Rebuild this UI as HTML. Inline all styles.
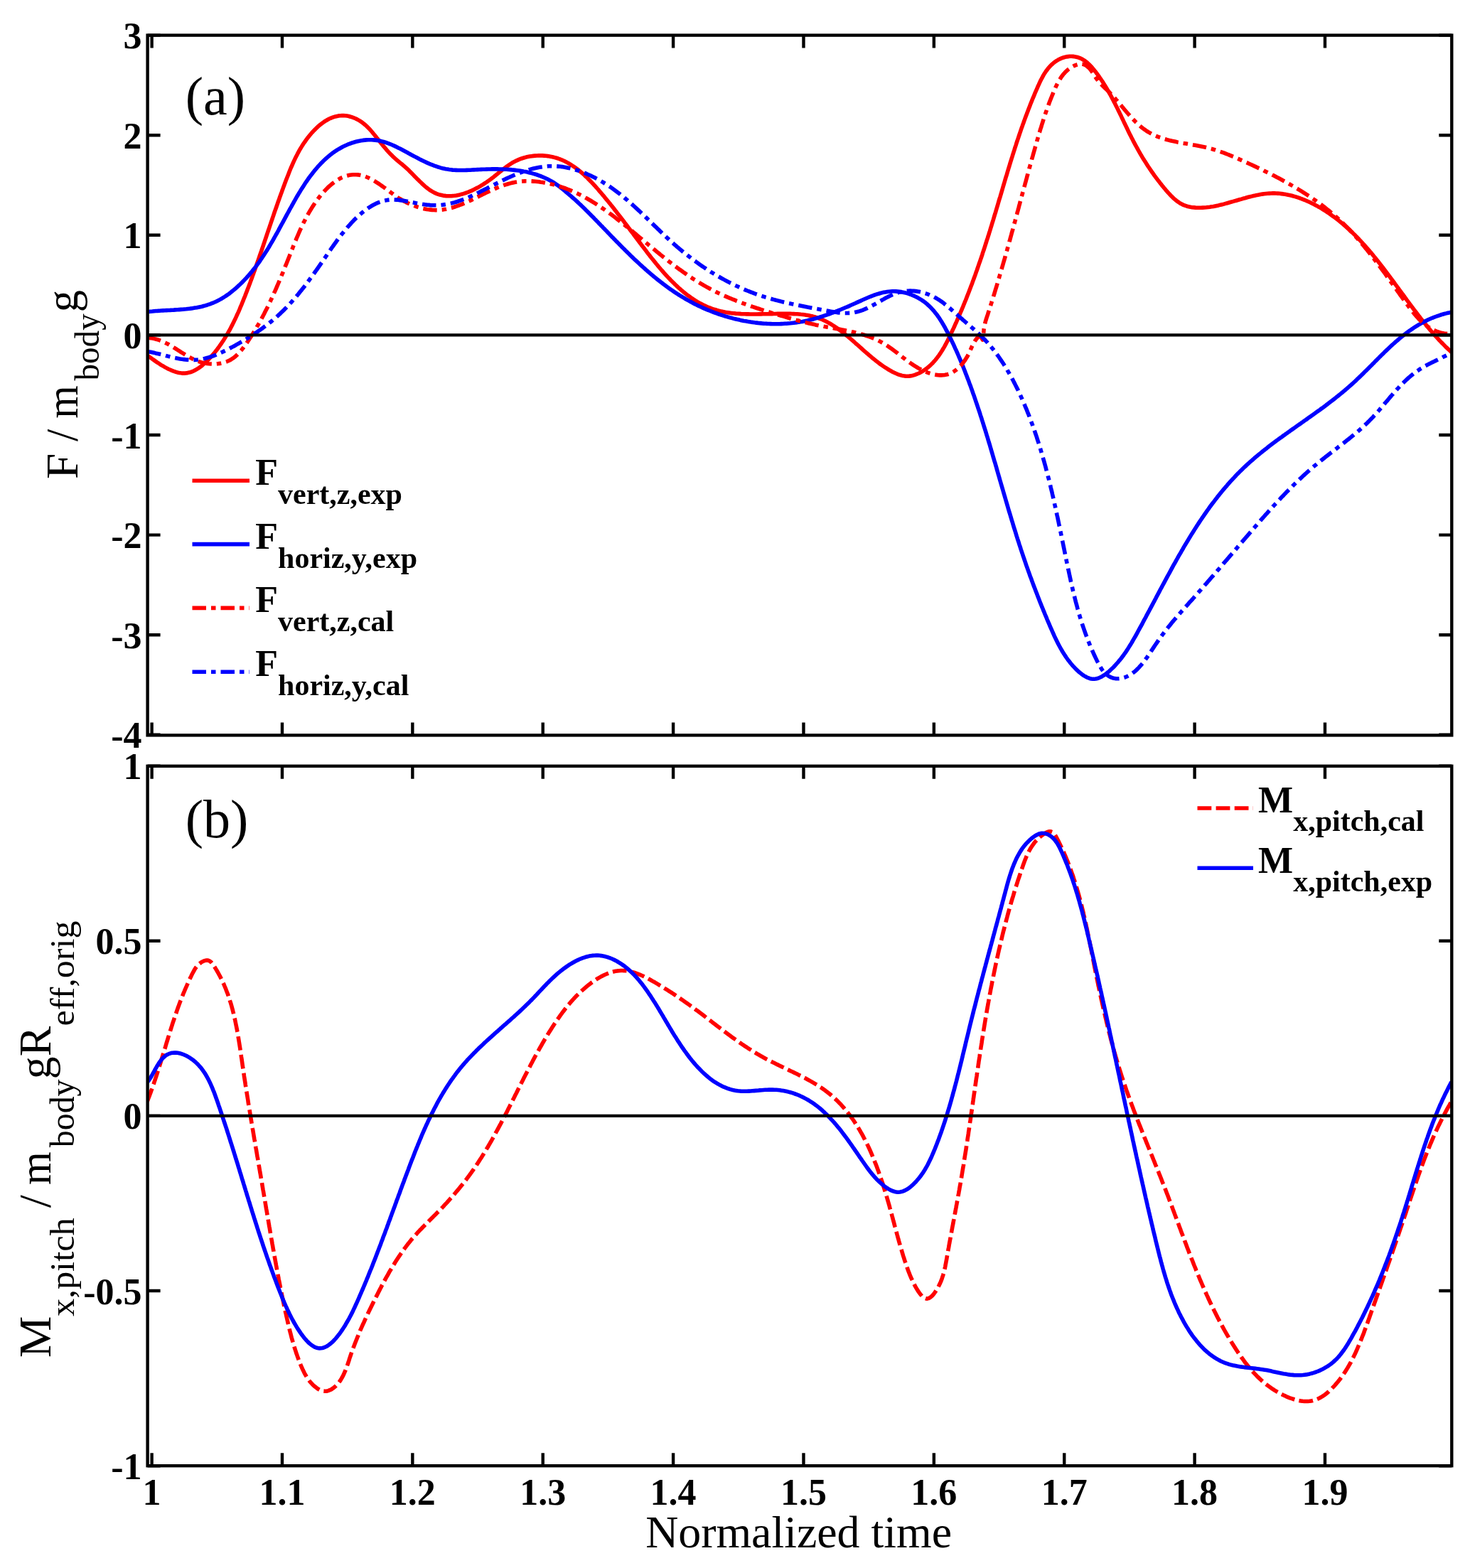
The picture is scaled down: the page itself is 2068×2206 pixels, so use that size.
<!DOCTYPE html>
<html><head><meta charset="utf-8"><title>Forces and moments vs normalized time</title>
<style>html,body{margin:0;padding:0;background:#fff;}svg{display:block;}.tk{font-family:"Liberation Serif","Times New Roman",serif;font-weight:bold;font-size:52px;fill:#000;}.lg{font-family:"Liberation Serif","Times New Roman",serif;font-weight:bold;fill:#000;}.rg{font-family:"Liberation Serif","Times New Roman",serif;font-weight:normal;fill:#000;}</style></head><body>
<svg xmlns="http://www.w3.org/2000/svg" width="2068" height="2206" viewBox="0 0 2068 2206">
<rect x="0" y="0" width="2068" height="2206" fill="#fff"/>
<clipPath id="c49"><rect x="207.6" y="49.6" width="1834.7" height="984.8"/></clipPath>
<g clip-path="url(#c49)" fill="none" stroke-linejoin="round">
<path d="M207.0,499.9 L208.6,501.0 210.4,502.3 212.2,503.6 214.2,505.0 216.2,506.4 218.3,507.9 220.4,509.4 222.7,510.8 224.9,512.3 227.3,513.8 229.7,515.2 232.1,516.6 234.5,517.9 237.0,519.2 239.5,520.3 242.0,521.4 244.5,522.3 247.0,523.2 249.5,523.9 252.0,524.4 254.4,524.8 256.8,525.1 259.2,525.1 261.6,524.9 263.9,524.6 266.2,524.1 268.4,523.5 270.6,522.7 272.7,521.7 274.9,520.6 276.9,519.4 279.0,518.1 281.0,516.7 283.0,515.2 284.9,513.7 286.8,512.0 288.7,510.3 290.5,508.5 292.3,506.7 294.1,504.9 295.8,503.1 297.5,501.2 299.1,499.3 300.8,497.4 302.4,495.4 303.9,493.5 305.5,491.5 307.0,489.5 308.4,487.5 309.9,485.4 311.3,483.4 312.7,481.3 314.1,479.2 315.4,477.1 316.7,475.0 318.0,472.9 319.3,470.8 320.6,468.6 321.8,466.4 323.0,464.3 324.2,462.1 325.3,459.9 326.5,457.7 327.6,455.4 328.7,453.2 329.8,450.9 330.9,448.7 332.0,446.4 333.0,444.2 334.0,441.9 335.1,439.6 336.1,437.3 337.1,435.0 338.0,432.7 339.0,430.4 340.0,428.1 340.9,425.8 341.9,423.4 342.8,421.1 343.7,418.8 344.7,416.5 345.6,414.1 346.5,411.8 347.4,409.4 348.3,407.1 349.2,404.8 350.1,402.4 351.0,400.1 351.9,397.7 352.7,395.4 353.6,393.0 354.5,390.7 355.3,388.3 356.2,386.0 357.0,383.6 357.9,381.3 358.7,378.9 359.5,376.5 360.4,374.2 361.2,371.8 362.0,369.5 362.9,367.1 363.7,364.7 364.5,362.4 365.3,360.0 366.1,357.6 366.9,355.3 367.8,352.9 368.6,350.5 369.4,348.2 370.2,345.8 371.0,343.4 371.8,341.1 372.6,338.7 373.4,336.3 374.2,334.0 375.0,331.6 375.8,329.2 376.6,326.9 377.4,324.5 378.2,322.1 379.0,319.8 379.8,317.4 380.6,315.1 381.4,312.7 382.2,310.3 383.0,308.0 383.8,305.6 384.6,303.3 385.4,300.9 386.2,298.5 387.0,296.2 387.9,293.8 388.7,291.5 389.5,289.1 390.3,286.8 391.1,284.4 392.0,282.1 392.8,279.8 393.6,277.4 394.5,275.1 395.3,272.7 396.2,270.4 397.0,268.1 397.9,265.7 398.7,263.4 399.6,261.1 400.4,258.8 401.3,256.4 402.2,254.1 403.1,251.8 404.0,249.5 404.9,247.2 405.8,244.9 406.7,242.6 407.6,240.3 408.5,238.0 409.5,235.7 410.5,233.5 411.5,231.2 412.5,228.9 413.5,226.7 414.6,224.4 415.6,222.2 416.7,220.0 417.9,217.8 419.0,215.6 420.2,213.4 421.4,211.2 422.7,209.0 424.0,206.9 425.3,204.8 426.7,202.6 428.1,200.5 429.6,198.5 431.0,196.4 432.6,194.3 434.2,192.3 435.8,190.3 437.5,188.3 439.2,186.3 441.0,184.4 442.8,182.5 444.6,180.7 446.5,178.9 448.4,177.2 450.4,175.5 452.4,174.0 454.4,172.5 456.5,171.0 458.6,169.7 460.7,168.5 462.9,167.3 465.1,166.3 467.3,165.4 469.6,164.6 471.8,163.9 474.1,163.4 476.4,162.9 478.8,162.7 481.1,162.5 483.5,162.6 485.9,162.7 488.3,163.1 490.7,163.5 493.1,164.2 495.4,164.9 497.8,165.8 500.1,166.8 502.4,167.9 504.6,169.1 506.8,170.4 508.9,171.8 511.0,173.4 512.9,175.0 514.9,176.7 516.7,178.4 518.5,180.3 520.3,182.1 522.0,184.0 523.7,186.0 525.3,188.0 527.0,190.0 528.6,192.0 530.1,194.0 531.7,195.9 533.3,197.9 534.8,199.9 536.3,201.8 537.9,203.7 539.4,205.6 541.0,207.4 542.6,209.3 544.1,211.1 545.7,212.9 547.3,214.6 548.9,216.3 550.6,218.0 552.2,219.6 553.9,221.2 555.6,222.8 557.4,224.3 559.1,225.8 560.9,227.3 562.7,228.8 564.5,230.3 566.4,231.8 568.2,233.4 570.0,235.0 571.9,236.6 573.7,238.3 575.5,240.1 577.3,241.9 579.2,243.7 581.0,245.6 582.8,247.5 584.7,249.4 586.5,251.3 588.4,253.1 590.3,255.0 592.2,256.8 594.1,258.6 596.0,260.4 597.9,262.1 599.9,263.7 601.9,265.3 603.9,266.8 605.9,268.1 608.0,269.4 610.1,270.6 612.2,271.7 614.4,272.6 616.6,273.4 618.8,274.1 621.0,274.6 623.3,275.1 625.6,275.4 627.9,275.7 630.2,275.8 632.6,275.8 635.0,275.7 637.3,275.5 639.7,275.3 642.1,274.9 644.5,274.4 646.9,273.9 649.3,273.3 651.7,272.6 654.1,271.8 656.5,271.0 658.9,270.1 661.3,269.1 663.7,268.1 666.0,267.0 668.4,265.8 670.7,264.6 673.0,263.4 675.3,262.1 677.6,260.7 679.8,259.4 682.0,257.9 684.2,256.5 686.3,255.0 688.4,253.5 690.5,252.0 692.5,250.4 694.5,248.9 696.5,247.3 698.4,245.7 700.4,244.1 702.3,242.5 704.2,241.0 706.1,239.4 708.1,237.9 710.0,236.4 711.9,235.0 713.9,233.5 715.9,232.2 717.9,230.8 719.9,229.5 722.0,228.3 724.1,227.2 726.3,226.1 728.5,225.1 730.7,224.1 733.1,223.2 735.4,222.5 737.8,221.8 740.2,221.1 742.7,220.6 745.2,220.1 747.7,219.7 750.2,219.4 752.8,219.1 755.3,219.0 757.9,218.9 760.4,218.8 763.0,218.9 765.6,219.1 768.1,219.3 770.6,219.6 773.1,220.0 775.6,220.4 778.1,221.0 780.5,221.6 782.9,222.3 785.2,223.0 787.6,223.9 789.9,224.8 792.1,225.8 794.4,226.8 796.6,227.9 798.7,229.1 800.9,230.3 803.0,231.6 805.1,233.0 807.2,234.4 809.2,235.8 811.2,237.3 813.2,238.8 815.2,240.4 817.1,242.0 819.1,243.7 821.0,245.3 822.8,247.1 824.7,248.8 826.5,250.6 828.3,252.4 830.1,254.2 831.9,256.1 833.7,257.9 835.4,259.8 837.1,261.7 838.8,263.6 840.5,265.5 842.2,267.4 843.8,269.4 845.5,271.3 847.1,273.2 848.7,275.1 850.3,277.1 851.9,279.0 853.4,280.9 855.0,282.8 856.6,284.7 858.1,286.6 859.6,288.5 861.2,290.4 862.7,292.3 864.2,294.2 865.7,296.2 867.2,298.1 868.6,300.0 870.1,301.9 871.6,303.8 873.1,305.7 874.5,307.6 876.0,309.5 877.5,311.4 878.9,313.4 880.4,315.3 881.9,317.2 883.3,319.1 884.8,321.1 886.2,323.0 887.7,325.0 889.2,326.9 890.7,328.9 892.1,330.8 893.6,332.8 895.1,334.8 896.6,336.8 898.1,338.7 899.6,340.7 901.1,342.7 902.6,344.8 904.1,346.8 905.7,348.8 907.2,350.8 908.8,352.8 910.3,354.9 911.9,356.9 913.5,358.9 915.0,361.0 916.6,363.0 918.3,365.0 919.9,367.0 921.5,369.0 923.1,371.0 924.8,373.0 926.4,375.0 928.1,377.0 929.8,379.0 931.5,380.9 933.2,382.9 934.9,384.8 936.6,386.7 938.4,388.6 940.1,390.5 941.9,392.3 943.7,394.2 945.5,396.0 947.3,397.8 949.1,399.6 950.9,401.3 952.8,403.1 954.6,404.8 956.5,406.4 958.4,408.1 960.3,409.7 962.2,411.3 964.2,412.9 966.1,414.4 968.1,415.9 970.1,417.3 972.1,418.8 974.1,420.1 976.1,421.5 978.2,422.8 980.3,424.1 982.3,425.3 984.4,426.5 986.6,427.6 988.7,428.7 990.9,429.8 993.0,430.8 995.2,431.8 997.4,432.7 999.7,433.5 1001.9,434.4 1004.2,435.1 1006.5,435.8 1008.8,436.5 1011.1,437.1 1013.4,437.7 1015.8,438.2 1018.2,438.7 1020.6,439.2 1023.0,439.6 1025.4,439.9 1027.8,440.3 1030.3,440.6 1032.7,440.8 1035.2,441.1 1037.7,441.3 1040.1,441.4 1042.6,441.6 1045.2,441.7 1047.7,441.8 1050.2,441.9 1052.7,441.9 1055.3,442.0 1057.8,442.0 1060.4,442.0 1062.9,442.0 1065.5,442.0 1068.1,441.9 1070.6,441.9 1073.2,441.8 1075.8,441.8 1078.3,441.7 1080.9,441.7 1083.5,441.6 1086.1,441.6 1088.6,441.5 1091.2,441.5 1093.8,441.4 1096.3,441.4 1098.9,441.3 1101.5,441.3 1104.0,441.3 1106.6,441.3 1109.1,441.3 1111.6,441.4 1114.2,441.5 1116.7,441.6 1119.2,441.7 1121.7,441.8 1124.2,442.0 1126.6,442.3 1129.1,442.5 1131.5,442.8 1133.9,443.2 1136.3,443.6 1138.7,444.0 1141.1,444.6 1143.4,445.1 1145.7,445.7 1148.0,446.4 1150.3,447.2 1152.5,448.0 1154.8,448.8 1157.0,449.8 1159.1,450.8 1161.3,451.8 1163.5,452.9 1165.6,454.1 1167.7,455.3 1169.8,456.5 1171.8,457.8 1173.9,459.1 1176.0,460.5 1178.0,461.9 1180.0,463.4 1182.0,464.9 1184.0,466.4 1186.0,467.9 1188.0,469.5 1189.9,471.1 1191.9,472.7 1193.8,474.3 1195.8,476.0 1197.7,477.7 1199.7,479.4 1201.6,481.0 1203.5,482.8 1205.5,484.5 1207.4,486.2 1209.3,487.9 1211.3,489.6 1213.2,491.4 1215.1,493.1 1217.1,494.8 1219.0,496.5 1221.0,498.2 1222.9,499.9 1224.9,501.5 1226.8,503.2 1228.8,504.8 1230.8,506.4 1232.8,508.0 1234.8,509.5 1236.8,511.1 1238.9,512.6 1240.9,514.0 1243.0,515.5 1245.1,516.9 1247.2,518.2 1249.3,519.5 1251.4,520.8 1253.6,522.0 1255.7,523.2 1257.9,524.3 1260.1,525.3 1262.4,526.3 1264.6,527.1 1266.9,527.8 1269.1,528.4 1271.4,528.8 1273.7,529.1 1276.1,529.2 1278.4,529.2 1280.7,528.9 1283.1,528.5 1285.5,527.9 1287.8,527.1 1290.1,526.2 1292.4,525.2 1294.7,524.1 1296.9,522.8 1299.1,521.5 1301.2,520.1 1303.3,518.6 1305.3,517.0 1307.2,515.4 1309.0,513.7 1310.8,512.0 1312.6,510.2 1314.2,508.4 1315.9,506.5 1317.4,504.6 1318.9,502.6 1320.4,500.7 1321.8,498.6 1323.2,496.6 1324.5,494.5 1325.9,492.4 1327.1,490.2 1328.4,488.1 1329.6,485.9 1330.8,483.7 1331.9,481.5 1333.1,479.2 1334.2,477.0 1335.3,474.7 1336.4,472.5 1337.5,470.2 1338.6,467.9 1339.6,465.7 1340.7,463.4 1341.8,461.1 1342.8,458.8 1343.8,456.5 1344.9,454.3 1345.9,452.0 1346.9,449.7 1347.9,447.4 1348.9,445.1 1349.9,442.8 1350.9,440.5 1351.9,438.2 1352.9,435.9 1353.8,433.6 1354.8,431.3 1355.7,428.9 1356.7,426.6 1357.6,424.3 1358.6,422.0 1359.5,419.7 1360.4,417.3 1361.3,415.0 1362.2,412.7 1363.1,410.4 1364.0,408.0 1364.9,405.7 1365.8,403.3 1366.7,401.0 1367.6,398.7 1368.4,396.3 1369.3,394.0 1370.2,391.6 1371.0,389.3 1371.9,386.9 1372.7,384.6 1373.5,382.2 1374.4,379.9 1375.2,377.5 1376.0,375.1 1376.8,372.8 1377.6,370.4 1378.5,368.1 1379.3,365.7 1380.1,363.3 1380.9,361.0 1381.7,358.6 1382.4,356.2 1383.2,353.9 1384.0,351.5 1384.8,349.1 1385.6,346.7 1386.3,344.4 1387.1,342.0 1387.8,339.6 1388.6,337.2 1389.4,334.9 1390.1,332.5 1390.9,330.1 1391.6,327.7 1392.4,325.3 1393.1,323.0 1393.8,320.6 1394.6,318.2 1395.3,315.8 1396.0,313.4 1396.8,311.0 1397.5,308.7 1398.2,306.3 1398.9,303.9 1399.6,301.5 1400.4,299.1 1401.1,296.7 1401.8,294.3 1402.5,292.0 1403.2,289.6 1403.9,287.2 1404.6,284.8 1405.3,282.4 1406.0,280.0 1406.8,277.6 1407.5,275.3 1408.2,272.9 1408.9,270.5 1409.6,268.1 1410.3,265.7 1411.0,263.3 1411.7,260.9 1412.4,258.5 1413.1,256.2 1413.8,253.8 1414.5,251.4 1415.2,249.0 1416.0,246.6 1416.7,244.2 1417.4,241.8 1418.1,239.5 1418.8,237.1 1419.6,234.7 1420.3,232.3 1421.0,229.9 1421.7,227.6 1422.5,225.2 1423.2,222.8 1424.0,220.4 1424.7,218.0 1425.5,215.7 1426.2,213.3 1427.0,210.9 1427.7,208.5 1428.5,206.1 1429.3,203.8 1430.0,201.4 1430.8,199.0 1431.6,196.6 1432.4,194.3 1433.2,191.9 1434.0,189.5 1434.8,187.2 1435.6,184.8 1436.4,182.4 1437.2,180.1 1438.1,177.7 1438.9,175.3 1439.8,173.0 1440.6,170.6 1441.5,168.2 1442.3,165.9 1443.2,163.5 1444.1,161.2 1445.0,158.8 1445.9,156.4 1446.8,154.1 1447.7,151.7 1448.6,149.4 1449.5,147.0 1450.4,144.7 1451.4,142.3 1452.3,140.0 1453.3,137.6 1454.3,135.3 1455.3,132.9 1456.2,130.6 1457.2,128.3 1458.3,125.9 1459.3,123.6 1460.3,121.2 1461.4,118.9 1462.4,116.6 1463.5,114.3 1464.6,112.0 1465.8,109.8 1467.0,107.6 1468.2,105.4 1469.5,103.3 1470.9,101.2 1472.3,99.2 1473.8,97.2 1475.3,95.3 1476.9,93.5 1478.6,91.8 1480.4,90.1 1482.2,88.5 1484.2,87.0 1486.2,85.6 1488.4,84.3 1490.6,83.1 1492.9,82.1 1495.2,81.2 1497.6,80.5 1500.0,79.9 1502.4,79.6 1504.8,79.3 1507.3,79.3 1509.7,79.4 1512.1,79.7 1514.5,80.2 1516.8,80.8 1519.1,81.7 1521.3,82.6 1523.4,83.8 1525.5,85.1 1527.4,86.5 1529.4,88.0 1531.2,89.7 1533.0,91.5 1534.8,93.3 1536.5,95.2 1538.2,97.2 1539.8,99.2 1541.4,101.2 1542.9,103.3 1544.5,105.4 1546.0,107.5 1547.4,109.6 1548.9,111.7 1550.3,113.8 1551.7,115.9 1553.0,118.1 1554.4,120.2 1555.7,122.4 1557.0,124.5 1558.2,126.7 1559.5,128.9 1560.7,131.1 1561.9,133.2 1563.1,135.4 1564.3,137.6 1565.5,139.9 1566.6,142.1 1567.8,144.3 1568.9,146.5 1570.0,148.7 1571.2,151.0 1572.3,153.2 1573.3,155.4 1574.4,157.6 1575.5,159.9 1576.6,162.1 1577.7,164.4 1578.7,166.6 1579.8,168.8 1580.9,171.1 1581.9,173.3 1583.0,175.5 1584.1,177.8 1585.2,180.0 1586.2,182.2 1587.3,184.5 1588.4,186.7 1589.5,188.9 1590.6,191.1 1591.7,193.3 1592.9,195.5 1594.0,197.7 1595.1,199.9 1596.3,202.1 1597.5,204.3 1598.7,206.5 1599.9,208.7 1601.1,210.8 1602.3,213.0 1603.5,215.1 1604.8,217.3 1606.0,219.4 1607.3,221.6 1608.6,223.7 1609.9,225.8 1611.3,227.9 1612.6,230.0 1613.9,232.1 1615.3,234.2 1616.7,236.3 1618.1,238.4 1619.5,240.4 1620.9,242.5 1622.4,244.5 1623.8,246.6 1625.3,248.6 1626.8,250.6 1628.3,252.6 1629.8,254.6 1631.4,256.6 1632.9,258.6 1634.5,260.6 1636.1,262.5 1637.7,264.5 1639.4,266.4 1641.0,268.4 1642.7,270.3 1644.4,272.2 1646.1,274.0 1647.8,275.8 1649.6,277.6 1651.4,279.3 1653.3,280.9 1655.2,282.5 1657.2,283.9 1659.2,285.3 1661.2,286.5 1663.3,287.6 1665.5,288.6 1667.7,289.4 1670.0,290.2 1672.4,290.8 1674.7,291.3 1677.1,291.7 1679.6,291.9 1682.0,292.1 1684.5,292.2 1687.0,292.3 1689.5,292.2 1692.0,292.1 1694.5,292.0 1697.0,291.8 1699.4,291.5 1701.9,291.2 1704.4,290.8 1706.9,290.4 1709.4,289.9 1711.8,289.4 1714.3,288.9 1716.8,288.3 1719.3,287.7 1721.7,287.1 1724.2,286.4 1726.7,285.7 1729.1,285.0 1731.6,284.3 1734.1,283.6 1736.5,282.9 1739.0,282.2 1741.4,281.5 1743.9,280.8 1746.4,280.1 1748.8,279.3 1751.3,278.7 1753.7,278.0 1756.2,277.3 1758.6,276.7 1761.1,276.1 1763.6,275.5 1766.0,275.0 1768.5,274.4 1770.9,274.0 1773.4,273.5 1775.8,273.1 1778.3,272.8 1780.7,272.5 1783.2,272.3 1785.6,272.1 1788.1,272.0 1790.5,271.9 1793.0,271.9 1795.4,272.0 1797.8,272.1 1800.3,272.3 1802.7,272.6 1805.2,272.9 1807.6,273.3 1810.0,273.7 1812.4,274.2 1814.9,274.7 1817.3,275.3 1819.7,276.0 1822.1,276.6 1824.4,277.4 1826.8,278.2 1829.2,279.0 1831.5,279.9 1833.9,280.8 1836.2,281.7 1838.5,282.7 1840.8,283.8 1843.1,284.8 1845.4,285.9 1847.7,287.1 1849.9,288.2 1852.2,289.4 1854.4,290.7 1856.6,291.9 1858.8,293.2 1860.9,294.5 1863.1,295.9 1865.2,297.2 1867.3,298.6 1869.4,300.0 1871.4,301.4 1873.5,302.9 1875.5,304.4 1877.5,305.8 1879.5,307.3 1881.5,308.9 1883.4,310.4 1885.4,312.0 1887.3,313.5 1889.2,315.1 1891.1,316.8 1892.9,318.4 1894.8,320.0 1896.6,321.7 1898.5,323.4 1900.3,325.1 1902.1,326.8 1903.8,328.5 1905.6,330.2 1907.3,332.0 1909.1,333.8 1910.8,335.5 1912.5,337.3 1914.2,339.1 1915.9,341.0 1917.6,342.8 1919.3,344.6 1920.9,346.5 1922.5,348.4 1924.2,350.2 1925.8,352.1 1927.4,354.0 1929.0,355.9 1930.6,357.8 1932.2,359.8 1933.8,361.7 1935.4,363.6 1936.9,365.6 1938.5,367.5 1940.0,369.5 1941.6,371.5 1943.1,373.4 1944.7,375.4 1946.2,377.4 1947.7,379.4 1949.2,381.4 1950.7,383.4 1952.2,385.4 1953.7,387.4 1955.2,389.4 1956.7,391.5 1958.2,393.5 1959.7,395.5 1961.2,397.5 1962.7,399.6 1964.2,401.6 1965.7,403.6 1967.2,405.6 1968.6,407.7 1970.1,409.7 1971.6,411.7 1973.1,413.8 1974.6,415.8 1976.1,417.8 1977.6,419.9 1979.0,421.9 1980.5,423.9 1982.0,425.9 1983.5,428.0 1985.0,430.0 1986.5,432.0 1988.0,434.0 1989.5,436.0 1991.1,438.0 1992.6,440.0 1994.1,442.0 1995.6,444.0 1997.2,445.9 1998.7,447.9 2000.3,449.9 2001.8,451.8 2003.4,453.8 2005.0,455.7 2006.5,457.6 2008.1,459.6 2009.7,461.5 2011.3,463.4 2012.9,465.3 2014.6,467.2 2016.2,469.1 2017.8,470.9 2019.5,472.8 2021.2,474.6 2022.8,476.4 2024.5,478.3 2026.2,480.1 2027.9,481.9 2029.7,483.6 2031.4,485.4 2033.1,487.2 2034.9,488.9 2036.7,490.6 2038.5,492.3 2040.3,494.0 2042.1,495.7" stroke="#ff0000" stroke-width="5.6"/>
<path d="M207.0,438.8 L209.5,438.5 211.9,438.2 214.4,438.0 216.8,437.7 219.3,437.5 221.8,437.4 224.3,437.2 226.8,437.0 229.3,436.9 231.8,436.8 234.3,436.6 236.8,436.5 239.3,436.4 241.9,436.2 244.4,436.1 246.9,435.9 249.4,435.8 251.9,435.6 254.5,435.4 257.0,435.2 259.5,435.0 262.0,434.8 264.5,434.5 267.0,434.2 269.4,433.9 271.9,433.5 274.4,433.1 276.8,432.7 279.2,432.2 281.7,431.7 284.1,431.2 286.5,430.5 288.9,429.9 291.2,429.2 293.6,428.4 295.9,427.6 298.2,426.7 300.5,425.8 302.8,424.8 305.1,423.7 307.3,422.6 309.5,421.4 311.7,420.2 313.8,418.9 316.0,417.5 318.1,416.1 320.2,414.7 322.3,413.2 324.3,411.6 326.3,410.0 328.3,408.4 330.2,406.8 332.2,405.1 334.1,403.4 335.9,401.7 337.8,400.0 339.6,398.3 341.3,396.5 343.1,394.7 344.8,392.9 346.5,391.1 348.2,389.2 349.8,387.4 351.4,385.5 353.0,383.6 354.6,381.7 356.1,379.8 357.7,377.9 359.2,376.0 360.6,374.0 362.1,372.0 363.6,370.1 365.0,368.1 366.4,366.0 367.8,364.0 369.1,362.0 370.5,360.0 371.8,357.9 373.2,355.8 374.5,353.8 375.8,351.7 377.1,349.6 378.4,347.5 379.6,345.4 380.9,343.2 382.1,341.1 383.4,339.0 384.6,336.8 385.8,334.7 387.0,332.5 388.2,330.3 389.5,328.2 390.7,326.0 391.9,323.8 393.0,321.6 394.2,319.4 395.4,317.2 396.6,315.0 397.8,312.8 399.0,310.6 400.2,308.4 401.4,306.2 402.6,303.9 403.8,301.7 405.0,299.5 406.2,297.3 407.4,295.0 408.6,292.8 409.9,290.6 411.1,288.4 412.4,286.1 413.6,283.9 414.9,281.7 416.1,279.5 417.4,277.2 418.7,275.0 420.0,272.8 421.4,270.6 422.7,268.4 424.0,266.2 425.4,264.1 426.8,261.9 428.2,259.8 429.6,257.6 431.0,255.5 432.5,253.4 433.9,251.3 435.4,249.3 436.9,247.2 438.5,245.2 440.0,243.2 441.6,241.2 443.1,239.3 444.8,237.4 446.4,235.5 448.0,233.6 449.7,231.8 451.4,230.0 453.2,228.2 454.9,226.5 456.7,224.8 458.5,223.1 460.4,221.5 462.2,219.9 464.1,218.3 466.1,216.8 468.0,215.3 470.0,213.9 472.0,212.5 474.1,211.2 476.2,209.9 478.3,208.7 480.4,207.5 482.6,206.3 484.8,205.3 487.1,204.2 489.3,203.2 491.6,202.3 493.9,201.5 496.3,200.7 498.6,200.0 501.0,199.3 503.4,198.7 505.8,198.2 508.2,197.8 510.6,197.4 513.0,197.1 515.4,196.9 517.9,196.8 520.3,196.7 522.7,196.8 525.2,196.9 527.6,197.1 530.0,197.4 532.4,197.8 534.8,198.3 537.2,198.9 539.6,199.5 542.0,200.2 544.3,201.0 546.7,201.9 549.1,202.8 551.4,203.8 553.8,204.8 556.1,205.9 558.4,207.0 560.7,208.2 563.1,209.3 565.4,210.5 567.7,211.8 570.0,213.0 572.3,214.2 574.5,215.5 576.8,216.7 579.1,218.0 581.4,219.2 583.6,220.4 585.9,221.6 588.2,222.8 590.4,224.0 592.7,225.1 595.0,226.2 597.2,227.3 599.5,228.4 601.7,229.4 604.0,230.4 606.3,231.3 608.6,232.2 610.9,233.1 613.2,233.9 615.5,234.7 617.8,235.4 620.1,236.1 622.4,236.7 624.8,237.2 627.1,237.7 629.5,238.1 631.9,238.5 634.3,238.8 636.7,239.1 639.2,239.3 641.6,239.4 644.1,239.5 646.6,239.5 649.0,239.5 651.5,239.5 654.0,239.5 656.5,239.4 659.1,239.3 661.6,239.2 664.1,239.0 666.7,238.9 669.2,238.8 671.7,238.6 674.3,238.5 676.8,238.4 679.4,238.3 681.9,238.2 684.5,238.1 687.0,238.0 689.6,238.0 692.1,237.9 694.6,237.9 697.2,237.9 699.7,237.9 702.2,238.0 704.8,238.0 707.3,238.1 709.8,238.2 712.3,238.3 714.8,238.5 717.3,238.6 719.8,238.9 722.3,239.1 724.7,239.4 727.2,239.7 729.6,240.0 732.1,240.3 734.5,240.7 736.9,241.2 739.3,241.6 741.7,242.1 744.1,242.7 746.5,243.3 748.8,243.9 751.1,244.6 753.5,245.3 755.8,246.0 758.0,246.8 760.3,247.7 762.6,248.6 764.8,249.5 767.0,250.5 769.2,251.5 771.4,252.6 773.5,253.8 775.7,254.9 777.8,256.2 779.9,257.5 781.9,258.9 784.0,260.3 786.0,261.8 788.0,263.3 790.0,264.9 791.9,266.4 793.9,268.0 795.8,269.7 797.8,271.3 799.7,272.9 801.6,274.6 803.5,276.2 805.4,277.9 807.3,279.5 809.2,281.2 811.1,282.9 812.9,284.6 814.7,286.3 816.6,288.0 818.4,289.8 820.2,291.5 822.0,293.2 823.7,295.0 825.5,296.7 827.3,298.5 829.0,300.2 830.8,302.0 832.5,303.8 834.3,305.6 836.0,307.3 837.7,309.1 839.5,310.9 841.2,312.7 842.9,314.5 844.7,316.3 846.4,318.1 848.1,319.8 849.8,321.6 851.6,323.4 853.3,325.2 855.0,327.0 856.8,328.8 858.5,330.6 860.2,332.4 862.0,334.2 863.7,336.0 865.5,337.8 867.2,339.6 869.0,341.3 870.7,343.1 872.5,344.9 874.2,346.7 876.0,348.5 877.8,350.2 879.5,352.0 881.3,353.7 883.1,355.5 884.9,357.2 886.6,359.0 888.4,360.7 890.2,362.4 892.0,364.2 893.8,365.9 895.7,367.6 897.5,369.3 899.3,371.0 901.1,372.7 903.0,374.4 904.8,376.0 906.7,377.7 908.5,379.3 910.4,381.0 912.3,382.6 914.1,384.2 916.0,385.8 917.9,387.4 919.8,389.0 921.8,390.6 923.7,392.2 925.6,393.7 927.6,395.3 929.5,396.8 931.5,398.3 933.4,399.8 935.4,401.3 937.4,402.8 939.4,404.2 941.4,405.7 943.4,407.1 945.5,408.5 947.5,409.9 949.6,411.3 951.6,412.6 953.7,414.0 955.8,415.3 957.9,416.6 960.0,417.9 962.2,419.2 964.3,420.5 966.5,421.7 968.6,422.9 970.8,424.2 973.0,425.3 975.2,426.5 977.4,427.7 979.7,428.8 981.9,429.9 984.2,431.0 986.4,432.0 988.7,433.1 991.0,434.1 993.3,435.1 995.7,436.1 998.0,437.0 1000.4,438.0 1002.7,438.9 1005.1,439.8 1007.5,440.6 1009.8,441.5 1012.2,442.3 1014.6,443.1 1017.1,443.9 1019.5,444.7 1021.9,445.4 1024.3,446.1 1026.8,446.8 1029.2,447.4 1031.7,448.1 1034.2,448.7 1036.6,449.3 1039.1,449.8 1041.6,450.4 1044.1,450.9 1046.5,451.4 1049.0,451.8 1051.5,452.3 1054.0,452.7 1056.5,453.1 1059.0,453.4 1061.5,453.8 1064.0,454.1 1066.5,454.4 1069.0,454.6 1071.6,454.9 1074.1,455.1 1076.6,455.2 1079.1,455.4 1081.6,455.5 1084.1,455.6 1086.6,455.7 1089.1,455.7 1091.6,455.7 1094.1,455.7 1096.6,455.7 1099.1,455.6 1101.6,455.5 1104.1,455.3 1106.6,455.2 1109.0,455.0 1111.5,454.8 1114.0,454.5 1116.4,454.2 1118.9,453.9 1121.4,453.6 1123.8,453.2 1126.2,452.8 1128.7,452.4 1131.1,451.9 1133.5,451.4 1135.9,450.9 1138.3,450.3 1140.7,449.8 1143.1,449.2 1145.5,448.5 1147.8,447.9 1150.2,447.2 1152.6,446.5 1154.9,445.7 1157.3,445.0 1159.6,444.2 1161.9,443.4 1164.3,442.6 1166.6,441.8 1168.9,440.9 1171.3,440.0 1173.6,439.2 1175.9,438.2 1178.2,437.3 1180.5,436.4 1182.8,435.5 1185.1,434.5 1187.5,433.5 1189.8,432.5 1192.1,431.6 1194.4,430.6 1196.7,429.5 1199.0,428.5 1201.3,427.5 1203.6,426.5 1205.9,425.4 1208.2,424.4 1210.5,423.4 1212.8,422.3 1215.1,421.3 1217.4,420.3 1219.7,419.3 1222.0,418.3 1224.3,417.3 1226.7,416.4 1229.0,415.5 1231.4,414.7 1233.7,413.9 1236.1,413.2 1238.4,412.5 1240.8,411.9 1243.2,411.3 1245.6,410.9 1248.0,410.5 1250.4,410.2 1252.9,410.0 1255.3,409.8 1257.8,409.8 1260.3,409.9 1262.8,410.1 1265.3,410.3 1267.8,410.7 1270.3,411.2 1272.8,411.8 1275.3,412.4 1277.8,413.2 1280.2,414.0 1282.6,414.9 1285.0,415.9 1287.4,417.0 1289.7,418.1 1291.9,419.3 1294.1,420.6 1296.3,421.9 1298.4,423.3 1300.4,424.8 1302.4,426.3 1304.3,427.9 1306.1,429.6 1307.9,431.2 1309.7,433.0 1311.4,434.8 1313.0,436.6 1314.6,438.5 1316.1,440.4 1317.6,442.3 1319.1,444.3 1320.5,446.3 1321.9,448.4 1323.2,450.5 1324.6,452.6 1325.8,454.7 1327.1,456.8 1328.3,459.0 1329.6,461.2 1330.7,463.4 1331.9,465.6 1333.1,467.8 1334.2,470.1 1335.3,472.3 1336.4,474.5 1337.5,476.8 1338.6,479.0 1339.7,481.3 1340.8,483.5 1341.9,485.8 1342.9,488.1 1343.9,490.4 1345.0,492.6 1346.0,494.9 1347.0,497.2 1348.0,499.5 1349.0,501.8 1350.0,504.1 1351.0,506.4 1351.9,508.7 1352.9,511.0 1353.8,513.3 1354.8,515.6 1355.7,517.9 1356.6,520.2 1357.5,522.6 1358.4,524.9 1359.3,527.2 1360.2,529.5 1361.1,531.9 1362.0,534.2 1362.9,536.6 1363.7,538.9 1364.6,541.2 1365.5,543.6 1366.3,545.9 1367.2,548.3 1368.0,550.6 1368.8,553.0 1369.7,555.4 1370.5,557.7 1371.3,560.1 1372.1,562.4 1372.9,564.8 1373.7,567.2 1374.5,569.5 1375.3,571.9 1376.1,574.3 1376.9,576.7 1377.7,579.0 1378.5,581.4 1379.2,583.8 1380.0,586.2 1380.8,588.5 1381.5,590.9 1382.3,593.3 1383.0,595.7 1383.8,598.1 1384.5,600.5 1385.3,602.9 1386.0,605.2 1386.8,607.6 1387.5,610.0 1388.2,612.4 1389.0,614.8 1389.7,617.2 1390.4,619.6 1391.1,622.0 1391.9,624.4 1392.6,626.8 1393.3,629.2 1394.0,631.6 1394.7,634.0 1395.4,636.4 1396.1,638.8 1396.8,641.2 1397.5,643.6 1398.2,646.0 1398.9,648.4 1399.7,650.8 1400.4,653.2 1401.1,655.6 1401.8,658.0 1402.4,660.4 1403.1,662.8 1403.8,665.2 1404.5,667.6 1405.2,670.0 1405.9,672.4 1406.6,674.9 1407.3,677.3 1408.0,679.7 1408.7,682.1 1409.4,684.5 1410.1,686.9 1410.8,689.3 1411.5,691.7 1412.2,694.1 1412.9,696.5 1413.6,698.9 1414.3,701.3 1415.0,703.7 1415.7,706.1 1416.4,708.5 1417.1,710.9 1417.8,713.3 1418.5,715.7 1419.2,718.1 1419.9,720.5 1420.7,722.9 1421.4,725.3 1422.1,727.6 1422.8,730.0 1423.5,732.4 1424.3,734.8 1425.0,737.2 1425.7,739.6 1426.4,742.0 1427.2,744.4 1427.9,746.7 1428.7,749.1 1429.4,751.5 1430.1,753.9 1430.9,756.3 1431.6,758.6 1432.4,761.0 1433.2,763.4 1433.9,765.8 1434.7,768.1 1435.5,770.5 1436.2,772.9 1437.0,775.2 1437.8,777.6 1438.6,779.9 1439.4,782.3 1440.2,784.7 1441.0,787.0 1441.8,789.4 1442.6,791.7 1443.4,794.1 1444.2,796.4 1445.1,798.8 1445.9,801.1 1446.7,803.4 1447.6,805.8 1448.4,808.1 1449.2,810.5 1450.1,812.8 1451.0,815.1 1451.8,817.5 1452.7,819.8 1453.5,822.1 1454.4,824.5 1455.3,826.8 1456.2,829.1 1457.1,831.5 1458.0,833.8 1458.9,836.1 1459.8,838.4 1460.7,840.8 1461.6,843.1 1462.5,845.4 1463.4,847.7 1464.4,850.1 1465.3,852.4 1466.2,854.7 1467.2,857.0 1468.1,859.4 1469.1,861.7 1470.0,864.0 1471.0,866.3 1472.0,868.6 1472.9,871.0 1473.9,873.3 1474.9,875.6 1475.9,877.9 1476.9,880.3 1477.9,882.6 1478.9,884.9 1479.9,887.2 1480.9,889.5 1482.0,891.8 1483.0,894.2 1484.1,896.4 1485.2,898.7 1486.3,901.0 1487.4,903.3 1488.5,905.5 1489.7,907.8 1490.9,910.0 1492.1,912.2 1493.4,914.4 1494.6,916.5 1496.0,918.7 1497.3,920.8 1498.7,922.9 1500.1,925.0 1501.5,927.0 1503.0,929.1 1504.6,931.1 1506.1,933.0 1507.8,935.0 1509.4,936.9 1511.1,938.7 1512.9,940.6 1514.7,942.4 1516.6,944.1 1518.5,945.8 1520.5,947.4 1522.5,949.0 1524.5,950.4 1526.6,951.6 1528.7,952.7 1530.8,953.7 1532.9,954.4 1535.1,954.9 1537.3,955.2 1539.5,955.2 1541.6,955.0 1543.8,954.5 1546.0,953.8 1548.2,952.8 1550.3,951.7 1552.4,950.4 1554.5,949.0 1556.6,947.5 1558.7,945.8 1560.7,944.1 1562.6,942.3 1564.5,940.5 1566.4,938.7 1568.2,936.8 1569.9,934.9 1571.6,933.0 1573.3,931.1 1574.9,929.1 1576.5,927.2 1578.0,925.2 1579.5,923.2 1581.0,921.2 1582.5,919.1 1583.9,917.1 1585.2,915.1 1586.6,913.0 1587.9,910.9 1589.2,908.8 1590.5,906.7 1591.8,904.6 1593.0,902.5 1594.2,900.4 1595.5,898.2 1596.7,896.1 1597.9,894.0 1599.1,891.8 1600.3,889.6 1601.4,887.5 1602.6,885.3 1603.8,883.1 1605.0,881.0 1606.2,878.8 1607.4,876.6 1608.5,874.4 1609.7,872.2 1610.9,870.0 1612.1,867.8 1613.2,865.6 1614.4,863.4 1615.6,861.2 1616.8,859.0 1617.9,856.8 1619.1,854.6 1620.3,852.4 1621.5,850.2 1622.6,848.0 1623.8,845.8 1625.0,843.5 1626.2,841.3 1627.3,839.1 1628.5,836.9 1629.7,834.7 1630.9,832.4 1632.0,830.2 1633.2,828.0 1634.4,825.8 1635.6,823.5 1636.8,821.3 1638.0,819.1 1639.2,816.9 1640.4,814.7 1641.6,812.4 1642.8,810.2 1644.0,808.0 1645.2,805.8 1646.4,803.6 1647.6,801.4 1648.8,799.1 1650.0,796.9 1651.2,794.7 1652.5,792.5 1653.7,790.3 1654.9,788.1 1656.2,785.9 1657.4,783.7 1658.6,781.5 1659.9,779.3 1661.2,777.2 1662.4,775.0 1663.7,772.8 1664.9,770.6 1666.2,768.4 1667.5,766.3 1668.8,764.1 1670.1,762.0 1671.4,759.8 1672.7,757.6 1674.0,755.5 1675.3,753.4 1676.6,751.2 1678.0,749.1 1679.3,747.0 1680.6,744.9 1682.0,742.7 1683.3,740.6 1684.7,738.5 1686.1,736.4 1687.4,734.4 1688.8,732.3 1690.2,730.2 1691.6,728.1 1693.0,726.1 1694.4,724.0 1695.9,722.0 1697.3,719.9 1698.7,717.9 1700.2,715.9 1701.6,713.8 1703.1,711.8 1704.6,709.8 1706.1,707.8 1707.6,705.9 1709.1,703.9 1710.6,701.9 1712.1,700.0 1713.6,698.0 1715.2,696.1 1716.7,694.1 1718.3,692.2 1719.9,690.3 1721.5,688.4 1723.1,686.5 1724.7,684.6 1726.3,682.8 1727.9,680.9 1729.5,679.1 1731.2,677.2 1732.9,675.4 1734.5,673.6 1736.2,671.8 1737.9,670.0 1739.6,668.2 1741.3,666.4 1743.1,664.7 1744.8,662.9 1746.6,661.2 1748.3,659.5 1750.1,657.8 1751.9,656.1 1753.7,654.4 1755.6,652.7 1757.4,651.0 1759.2,649.4 1761.1,647.8 1763.0,646.1 1764.8,644.5 1766.7,642.9 1768.6,641.3 1770.5,639.7 1772.5,638.1 1774.4,636.6 1776.3,635.0 1778.3,633.5 1780.2,631.9 1782.2,630.4 1784.2,628.8 1786.1,627.3 1788.1,625.8 1790.1,624.3 1792.1,622.8 1794.1,621.3 1796.1,619.8 1798.2,618.3 1800.2,616.8 1802.2,615.4 1804.2,613.9 1806.3,612.4 1808.3,610.9 1810.4,609.5 1812.4,608.0 1814.5,606.6 1816.5,605.1 1818.6,603.6 1820.6,602.2 1822.7,600.7 1824.7,599.3 1826.8,597.8 1828.9,596.4 1830.9,594.9 1833.0,593.5 1835.0,592.0 1837.1,590.6 1839.2,589.1 1841.2,587.6 1843.3,586.2 1845.3,584.7 1847.4,583.3 1849.5,581.8 1851.5,580.3 1853.5,578.8 1855.6,577.4 1857.6,575.9 1859.7,574.4 1861.7,572.9 1863.7,571.4 1865.7,569.9 1867.8,568.4 1869.8,566.8 1871.8,565.3 1873.8,563.8 1875.8,562.2 1877.7,560.7 1879.7,559.1 1881.7,557.6 1883.6,556.0 1885.6,554.4 1887.5,552.8 1889.5,551.2 1891.4,549.6 1893.3,548.0 1895.2,546.3 1897.1,544.7 1899.0,543.0 1900.9,541.4 1902.8,539.7 1904.6,538.0 1906.5,536.3 1908.3,534.6 1910.1,532.8 1911.9,531.1 1913.7,529.4 1915.5,527.6 1917.3,525.9 1919.1,524.1 1920.9,522.3 1922.7,520.6 1924.5,518.8 1926.2,517.0 1928.0,515.2 1929.8,513.5 1931.5,511.7 1933.3,509.9 1935.0,508.1 1936.8,506.4 1938.6,504.6 1940.3,502.8 1942.1,501.1 1943.9,499.3 1945.7,497.6 1947.4,495.8 1949.2,494.1 1951.0,492.4 1952.8,490.7 1954.6,489.0 1956.4,487.3 1958.2,485.6 1960.0,484.0 1961.9,482.3 1963.7,480.7 1965.6,479.1 1967.5,477.5 1969.3,475.9 1971.2,474.3 1973.1,472.8 1975.0,471.3 1977.0,469.8 1978.9,468.3 1980.9,466.8 1982.9,465.4 1984.9,464.0 1986.9,462.6 1988.9,461.2 1991.0,459.9 1993.0,458.6 1995.1,457.3 1997.3,456.1 1999.4,454.9 2001.5,453.7 2003.7,452.5 2005.9,451.4 2008.2,450.3 2010.4,449.3 2012.7,448.3 2015.0,447.3 2017.3,446.4 2019.7,445.5 2022.1,444.6 2024.5,443.8 2026.9,443.0 2029.4,442.2 2031.9,441.5 2034.4,440.9 2037.0,440.2 2039.6,439.7 2042.2,439.1" stroke="#0000ff" stroke-width="5.6"/>
<path d="M206.9,475.1 L209.6,475.3 212.1,475.6 214.7,476.0 217.2,476.6 219.6,477.2 222.0,477.9 224.4,478.7 226.7,479.6 229.0,480.6 231.2,481.6 233.5,482.7 235.7,483.8 237.9,485.0 240.0,486.3 242.2,487.5 244.3,488.8 246.5,490.2 248.6,491.5 250.7,492.9 252.8,494.2 254.9,495.6 257.1,496.9 259.2,498.2 261.3,499.5 263.5,500.8 265.6,502.0 267.8,503.2 270.0,504.4 272.3,505.5 274.5,506.5 276.8,507.5 279.1,508.4 281.4,509.2 283.8,509.9 286.2,510.5 288.7,511.1 291.2,511.5 293.7,511.8 296.3,512.0 298.9,512.1 301.5,512.1 304.0,512.0 306.6,511.7 309.1,511.4 311.6,510.9 314.1,510.3 316.5,509.6 318.9,508.8 321.2,507.8 323.4,506.7 325.5,505.5 327.5,504.2 329.5,502.7 331.4,501.2 333.2,499.6 335.0,497.8 336.7,496.0 338.3,494.2 339.9,492.3 341.5,490.3 343.0,488.3 344.5,486.2 346.0,484.2 347.4,482.1 348.8,480.0 350.2,477.9 351.6,475.8 353.0,473.7 354.3,471.6 355.7,469.5 357.0,467.3 358.3,465.2 359.6,463.0 360.9,460.9 362.1,458.7 363.4,456.6 364.6,454.4 365.8,452.2 367.0,450.1 368.2,447.9 369.4,445.7 370.5,443.5 371.7,441.3 372.8,439.1 373.9,436.8 375.1,434.6 376.2,432.4 377.3,430.2 378.3,427.9 379.4,425.7 380.5,423.5 381.5,421.2 382.6,419.0 383.6,416.7 384.6,414.4 385.6,412.2 386.7,409.9 387.7,407.6 388.7,405.3 389.6,403.1 390.6,400.8 391.6,398.5 392.6,396.2 393.5,393.9 394.5,391.6 395.5,389.3 396.4,387.0 397.4,384.7 398.3,382.4 399.2,380.1 400.2,377.8 401.1,375.5 402.0,373.1 403.0,370.8 403.9,368.5 404.8,366.2 405.7,363.9 406.7,361.5 407.6,359.2 408.5,356.9 409.4,354.5 410.3,352.2 411.3,349.9 412.2,347.6 413.1,345.2 414.1,342.9 415.0,340.6 416.0,338.3 416.9,335.9 417.9,333.6 418.9,331.3 419.9,329.0 420.9,326.7 421.9,324.4 422.9,322.1 424.0,319.9 425.0,317.6 426.1,315.3 427.2,313.1 428.3,310.9 429.5,308.6 430.6,306.4 431.8,304.2 433.0,302.0 434.2,299.8 435.5,297.6 436.8,295.5 438.1,293.3 439.4,291.2 440.8,289.1 442.2,287.0 443.6,284.9 445.1,282.9 446.6,280.8 448.1,278.8 449.6,276.8 451.2,274.8 452.9,272.8 454.5,270.9 456.2,269.0 458.0,267.2 459.7,265.4 461.5,263.6 463.3,261.9 465.2,260.3 467.1,258.7 469.0,257.2 470.9,255.8 472.9,254.4 474.9,253.1 477.0,251.9 479.0,250.8 481.1,249.8 483.2,248.9 485.4,248.1 487.6,247.4 489.8,246.8 492.0,246.3 494.2,246.0 496.5,245.8 498.8,245.7 501.1,245.7 503.5,245.9 505.9,246.2 508.2,246.7 510.7,247.3 513.1,248.0 515.6,249.0 518.0,250.0 520.5,251.2 523.0,252.5 525.4,253.9 527.9,255.3 530.3,256.8 532.7,258.4 535.0,260.0 537.3,261.6 539.6,263.2 541.8,264.8 544.0,266.4 546.0,268.0 548.0,269.5 550.0,270.9 551.9,272.3 553.7,273.7 555.6,275.0 557.4,276.3 559.2,277.6 561.1,278.8 563.1,280.0 565.1,281.2 567.1,282.4 569.3,283.5 571.4,284.6 573.7,285.7 575.9,286.7 578.3,287.7 580.6,288.7 583.0,289.6 585.4,290.5 587.9,291.3 590.3,292.0 592.8,292.7 595.3,293.4 597.9,293.9 600.4,294.4 602.9,294.8 605.5,295.1 608.0,295.4 610.5,295.5 613.0,295.6 615.5,295.6 618.0,295.4 620.5,295.2 622.9,295.0 625.4,294.6 627.8,294.2 630.3,293.7 632.7,293.1 635.1,292.5 637.5,291.8 639.8,291.0 642.2,290.2 644.6,289.4 646.9,288.5 649.3,287.6 651.6,286.6 653.9,285.6 656.3,284.6 658.6,283.5 660.9,282.5 663.2,281.4 665.5,280.3 667.7,279.2 670.0,278.0 672.3,276.9 674.6,275.8 676.8,274.6 679.1,273.5 681.3,272.4 683.6,271.3 685.9,270.2 688.1,269.2 690.4,268.1 692.6,267.1 694.9,266.1 697.2,265.1 699.4,264.1 701.7,263.2 704.0,262.3 706.3,261.5 708.6,260.7 711.0,259.9 713.3,259.2 715.6,258.5 718.0,257.9 720.4,257.3 722.8,256.7 725.2,256.3 727.6,255.9 730.1,255.5 732.6,255.2 735.1,255.0 737.6,254.9 740.1,254.8 742.7,254.8 745.3,254.8 747.8,254.9 750.4,255.1 753.0,255.3 755.6,255.5 758.1,255.8 760.7,256.2 763.2,256.5 765.7,256.9 768.2,257.4 770.7,257.9 773.2,258.4 775.6,259.0 778.0,259.6 780.5,260.2 782.8,260.9 785.2,261.6 787.6,262.3 790.0,263.1 792.3,263.9 794.6,264.7 796.9,265.6 799.2,266.5 801.5,267.4 803.8,268.3 806.0,269.3 808.3,270.3 810.5,271.4 812.7,272.4 814.9,273.5 817.1,274.6 819.3,275.7 821.5,276.9 823.6,278.1 825.8,279.3 827.9,280.5 830.0,281.7 832.1,283.0 834.3,284.3 836.4,285.6 838.4,286.9 840.5,288.3 842.6,289.6 844.7,291.0 846.7,292.4 848.8,293.8 850.8,295.2 852.8,296.7 854.8,298.1 856.9,299.6 858.9,301.1 860.9,302.6 862.9,304.1 864.9,305.6 866.8,307.1 868.8,308.7 870.8,310.2 872.8,311.8 874.7,313.3 876.7,314.9 878.7,316.5 880.6,318.0 882.6,319.6 884.5,321.2 886.4,322.8 888.4,324.4 890.3,326.0 892.3,327.6 894.2,329.2 896.1,330.8 898.0,332.5 900.0,334.1 901.9,335.7 903.8,337.3 905.7,338.9 907.7,340.5 909.6,342.1 911.5,343.7 913.4,345.3 915.4,346.9 917.3,348.5 919.2,350.1 921.2,351.7 923.1,353.3 925.0,354.9 927.0,356.5 928.9,358.1 930.8,359.6 932.8,361.2 934.7,362.7 936.7,364.3 938.6,365.8 940.6,367.4 942.6,368.9 944.5,370.4 946.5,371.9 948.5,373.5 950.5,374.9 952.5,376.4 954.5,377.9 956.5,379.4 958.5,380.8 960.5,382.3 962.5,383.7 964.6,385.1 966.6,386.5 968.6,387.9 970.7,389.3 972.8,390.7 974.8,392.1 976.9,393.4 979.0,394.7 981.1,396.0 983.2,397.3 985.3,398.6 987.5,399.9 989.6,401.2 991.8,402.4 993.9,403.6 996.1,404.8 998.3,406.0 1000.5,407.2 1002.7,408.3 1004.9,409.4 1007.1,410.6 1009.4,411.7 1011.6,412.7 1013.9,413.8 1016.2,414.8 1018.4,415.9 1020.7,416.9 1023.0,417.9 1025.3,418.9 1027.7,419.8 1030.0,420.8 1032.3,421.7 1034.7,422.7 1037.0,423.6 1039.3,424.5 1041.7,425.4 1044.1,426.3 1046.4,427.2 1048.8,428.0 1051.2,428.9 1053.6,429.7 1056.0,430.5 1058.3,431.4 1060.7,432.2 1063.1,433.0 1065.5,433.8 1067.9,434.5 1070.3,435.3 1072.7,436.1 1075.1,436.9 1077.5,437.6 1079.9,438.4 1082.3,439.1 1084.7,439.9 1087.1,440.6 1089.5,441.3 1091.9,442.1 1094.3,442.8 1096.7,443.5 1099.1,444.2 1101.5,444.9 1103.9,445.6 1106.2,446.3 1108.6,447.0 1111.0,447.7 1113.4,448.4 1115.8,449.1 1118.2,449.7 1120.6,450.4 1123.0,451.0 1125.3,451.7 1127.7,452.3 1130.1,452.9 1132.5,453.5 1134.9,454.1 1137.3,454.7 1139.7,455.2 1142.2,455.8 1144.6,456.3 1147.0,456.9 1149.4,457.4 1151.9,457.9 1154.3,458.4 1156.7,458.8 1159.2,459.3 1161.6,459.7 1164.1,460.2 1166.5,460.6 1169.0,461.1 1171.4,461.5 1173.9,462.0 1176.4,462.4 1178.8,462.8 1181.3,463.3 1183.8,463.8 1186.2,464.2 1188.7,464.7 1191.1,465.2 1193.6,465.7 1196.0,466.2 1198.5,466.8 1200.9,467.3 1203.4,467.9 1205.8,468.5 1208.2,469.2 1210.7,469.8 1213.1,470.5 1215.5,471.2 1217.8,472.0 1220.2,472.8 1222.6,473.6 1224.9,474.5 1227.2,475.4 1229.5,476.3 1231.8,477.3 1234.0,478.4 1236.2,479.5 1238.4,480.6 1240.6,481.8 1242.7,483.0 1244.8,484.3 1246.9,485.6 1249.0,487.0 1251.0,488.4 1253.1,489.8 1255.1,491.3 1257.1,492.8 1259.1,494.3 1261.1,495.8 1263.1,497.3 1265.0,498.9 1267.0,500.4 1269.0,502.0 1271.0,503.5 1273.0,505.0 1275.0,506.6 1277.0,508.1 1279.1,509.5 1281.1,511.0 1283.2,512.4 1285.3,513.8 1287.4,515.2 1289.6,516.5 1291.8,517.8 1294.0,519.1 1296.2,520.2 1298.5,521.4 1300.8,522.4 1303.1,523.4 1305.5,524.3 1307.8,525.1 1310.2,525.9 1312.6,526.5 1315.0,527.0 1317.3,527.4 1319.7,527.7 1322.1,527.9 1324.4,527.9 1326.8,527.8 1329.1,527.5 1331.4,527.1 1333.7,526.5 1336.0,525.7 1338.2,524.8 1340.4,523.6 1342.5,522.3 1344.6,520.8 1346.6,519.2 1348.6,517.4 1350.5,515.5 1352.4,513.5 1354.1,511.4 1355.8,509.2 1357.4,507.0 1358.8,504.8 1360.2,502.6 1361.4,500.4 1362.6,498.2 1363.6,496.0 1364.5,493.9 1365.5,491.7 1366.5,489.5 1367.5,487.2 1368.6,484.9 1369.9,482.6 1371.3,480.1 1372.9,477.8 1374.5,475.7 1376.1,474.1 1377.6,473.2 1379.0,473.3 1380.1,474.3 1381.1,475.8 1381.9,477.3 1382.4,478.0 1382.8,477.6 1383.1,476.3 1383.3,474.3 1383.5,471.7 1383.7,468.8 1383.9,465.7 1384.2,462.7 1384.6,459.9 1385.2,457.2 1385.8,454.6 1386.4,452.1 1387.2,449.7 1387.9,447.3 1388.7,444.9 1389.5,442.6 1390.2,440.2 1391.0,437.9 1391.8,435.5 1392.5,433.2 1393.3,430.8 1394.0,428.4 1394.8,426.1 1395.5,423.7 1396.3,421.4 1397.0,419.0 1397.7,416.6 1398.5,414.2 1399.2,411.9 1399.9,409.5 1400.6,407.1 1401.4,404.7 1402.1,402.3 1402.8,400.0 1403.5,397.6 1404.2,395.2 1404.9,392.8 1405.6,390.4 1406.3,388.0 1407.0,385.6 1407.7,383.2 1408.4,380.8 1409.1,378.4 1409.8,376.0 1410.5,373.6 1411.2,371.2 1411.9,368.8 1412.6,366.4 1413.3,364.0 1414.0,361.6 1414.6,359.2 1415.3,356.8 1416.0,354.4 1416.7,352.0 1417.3,349.6 1418.0,347.2 1418.7,344.8 1419.4,342.4 1420.0,340.0 1420.7,337.6 1421.4,335.1 1422.0,332.7 1422.7,330.3 1423.3,327.9 1424.0,325.5 1424.7,323.1 1425.3,320.7 1426.0,318.2 1426.6,315.8 1427.3,313.4 1428.0,311.0 1428.6,308.6 1429.3,306.2 1429.9,303.7 1430.6,301.3 1431.2,298.9 1431.9,296.5 1432.5,294.1 1433.2,291.7 1433.8,289.2 1434.5,286.8 1435.1,284.4 1435.8,282.0 1436.4,279.6 1437.1,277.2 1437.7,274.8 1438.4,272.4 1439.0,269.9 1439.7,267.5 1440.4,265.1 1441.0,262.7 1441.7,260.3 1442.3,257.9 1443.0,255.5 1443.6,253.1 1444.3,250.7 1444.9,248.3 1445.6,245.9 1446.2,243.5 1446.9,241.1 1447.6,238.7 1448.2,236.3 1448.9,233.9 1449.5,231.5 1450.2,229.1 1450.9,226.7 1451.5,224.3 1452.2,221.9 1452.9,219.5 1453.5,217.1 1454.2,214.7 1454.9,212.3 1455.6,209.9 1456.2,207.6 1456.9,205.2 1457.6,202.8 1458.3,200.4 1458.9,198.0 1459.6,195.7 1460.3,193.3 1461.0,190.9 1461.7,188.5 1462.4,186.2 1463.1,183.8 1463.8,181.4 1464.6,179.1 1465.3,176.7 1466.0,174.3 1466.8,172.0 1467.5,169.6 1468.3,167.2 1469.1,164.9 1469.8,162.5 1470.6,160.2 1471.4,157.8 1472.3,155.4 1473.1,153.1 1473.9,150.7 1474.8,148.3 1475.6,146.0 1476.5,143.6 1477.4,141.3 1478.3,138.9 1479.3,136.5 1480.2,134.2 1481.2,131.8 1482.1,129.4 1483.1,127.1 1484.2,124.7 1485.2,122.4 1486.3,120.1 1487.5,117.8 1488.6,115.6 1489.9,113.4 1491.2,111.3 1492.5,109.2 1493.9,107.2 1495.4,105.2 1497.0,103.4 1498.6,101.6 1500.3,99.9 1502.1,98.3 1504.1,96.8 1506.1,95.4 1508.2,94.1 1510.4,92.9 1512.7,91.9 1515.2,91.0 1517.6,90.3 1520.1,90.0 1522.6,90.1 1524.9,90.7 1527.1,91.7 1529.2,93.1 1531.1,94.8 1532.9,96.6 1534.5,98.6 1536.1,100.7 1537.6,102.9 1539.0,105.1 1540.4,107.4 1541.8,109.5 1543.3,111.6 1544.8,113.7 1546.4,115.6 1548.0,117.4 1549.6,119.1 1551.3,120.8 1553.0,122.5 1554.7,124.1 1556.5,125.8 1558.2,127.4 1559.9,129.1 1561.6,130.8 1563.3,132.6 1565.0,134.4 1566.7,136.2 1568.4,138.1 1570.0,140.0 1571.7,141.9 1573.3,143.8 1575.0,145.8 1576.7,147.8 1578.3,149.8 1580.0,151.8 1581.6,153.7 1583.3,155.7 1585.0,157.7 1586.7,159.7 1588.4,161.6 1590.1,163.6 1591.8,165.5 1593.6,167.4 1595.4,169.2 1597.1,171.0 1599.0,172.8 1600.8,174.5 1602.7,176.2 1604.6,177.9 1606.5,179.5 1608.4,181.0 1610.4,182.4 1612.4,183.8 1614.5,185.2 1616.6,186.4 1618.7,187.6 1620.8,188.7 1623.0,189.8 1625.3,190.8 1627.5,191.8 1629.8,192.7 1632.1,193.5 1634.4,194.3 1636.7,195.1 1639.1,195.8 1641.5,196.5 1643.9,197.1 1646.3,197.7 1648.8,198.3 1651.2,198.8 1653.7,199.3 1656.2,199.9 1658.6,200.3 1661.1,200.8 1663.6,201.3 1666.1,201.7 1668.6,202.1 1671.2,202.6 1673.7,203.0 1676.2,203.5 1678.7,203.9 1681.2,204.3 1683.7,204.8 1686.2,205.3 1688.6,205.8 1691.1,206.3 1693.6,206.8 1696.0,207.3 1698.4,207.9 1700.9,208.5 1703.3,209.2 1705.6,209.8 1708.0,210.5 1710.4,211.3 1712.7,212.0 1715.0,212.8 1717.4,213.6 1719.7,214.4 1722.0,215.2 1724.3,216.1 1726.6,217.0 1728.9,217.9 1731.1,218.8 1733.4,219.7 1735.7,220.7 1737.9,221.6 1740.2,222.6 1742.4,223.6 1744.7,224.6 1746.9,225.6 1749.2,226.6 1751.4,227.6 1753.7,228.6 1756.0,229.7 1758.2,230.7 1760.5,231.7 1762.7,232.8 1765.0,233.9 1767.3,234.9 1769.5,236.0 1771.8,237.1 1774.0,238.2 1776.3,239.2 1778.5,240.4 1780.8,241.5 1783.1,242.6 1785.3,243.7 1787.6,244.8 1789.8,246.0 1792.0,247.1 1794.3,248.3 1796.5,249.5 1798.7,250.6 1801.0,251.8 1803.2,253.0 1805.4,254.2 1807.6,255.4 1809.8,256.6 1812.0,257.9 1814.2,259.1 1816.4,260.4 1818.6,261.6 1820.8,262.9 1822.9,264.2 1825.1,265.5 1827.3,266.8 1829.4,268.1 1831.5,269.4 1833.7,270.8 1835.8,272.1 1837.9,273.5 1840.0,274.9 1842.1,276.3 1844.2,277.7 1846.3,279.1 1848.3,280.5 1850.4,281.9 1852.4,283.4 1854.4,284.8 1856.4,286.3 1858.5,287.8 1860.4,289.3 1862.4,290.8 1864.4,292.3 1866.3,293.9 1868.3,295.4 1870.2,297.0 1872.1,298.6 1874.0,300.2 1875.9,301.8 1877.8,303.4 1879.6,305.1 1881.5,306.7 1883.3,308.4 1885.1,310.1 1886.9,311.8 1888.7,313.5 1890.4,315.2 1892.2,317.0 1893.9,318.7 1895.7,320.5 1897.4,322.2 1899.1,324.0 1900.8,325.8 1902.5,327.6 1904.1,329.5 1905.8,331.3 1907.5,333.1 1909.1,335.0 1910.7,336.8 1912.4,338.7 1914.0,340.6 1915.6,342.5 1917.2,344.4 1918.8,346.3 1920.3,348.2 1921.9,350.1 1923.5,352.1 1925.0,354.0 1926.6,356.0 1928.1,357.9 1929.7,359.9 1931.2,361.9 1932.7,363.8 1934.2,365.8 1935.7,367.8 1937.2,369.8 1938.8,371.8 1940.3,373.8 1941.7,375.8 1943.2,377.8 1944.7,379.9 1946.2,381.9 1947.7,383.9 1949.2,385.9 1950.6,388.0 1952.1,390.0 1953.6,392.1 1955.1,394.1 1956.5,396.2 1958.0,398.2 1959.5,400.3 1960.9,402.3 1962.4,404.4 1963.9,406.4 1965.3,408.5 1966.8,410.6 1968.3,412.6 1969.7,414.7 1971.2,416.7 1972.7,418.8 1974.2,420.9 1975.6,422.9 1977.1,425.0 1978.6,427.0 1980.1,429.1 1981.6,431.1 1983.1,433.2 1984.6,435.2 1986.2,437.2 1987.7,439.1 1989.3,441.1 1990.9,443.0 1992.5,444.9 1994.1,446.7 1995.8,448.5 1997.5,450.3 1999.3,452.0 2001.1,453.6 2002.9,455.2 2004.8,456.7 2006.7,458.2 2008.6,459.6 2010.6,460.9 2012.7,462.2 2014.8,463.3 2017.0,464.4 2019.2,465.4 2021.5,466.3 2023.9,467.1 2026.3,467.9 2028.8,468.5 2031.4,469.0 2034.0,469.4 2036.8,469.7 2039.6,469.8 2042.4,469.9" stroke="#ff0000" stroke-width="5.6" stroke-dasharray="19.5 7 6.5 7"/>
<path d="M207.2,494.5 L209.5,494.9 211.9,495.3 214.2,495.8 216.6,496.3 219.0,496.9 221.4,497.4 223.8,498.0 226.3,498.6 228.7,499.2 231.2,499.8 233.6,500.5 236.1,501.1 238.6,501.7 241.1,502.3 243.6,502.9 246.1,503.4 248.6,503.9 251.1,504.4 253.5,504.9 256.0,505.3 258.5,505.6 261.0,505.9 263.5,506.1 266.0,506.3 268.4,506.4 270.9,506.4 273.3,506.4 275.8,506.2 278.2,506.0 280.6,505.7 283.0,505.3 285.4,504.9 287.8,504.4 290.2,503.8 292.6,503.1 294.9,502.4 297.3,501.7 299.6,500.8 301.9,500.0 304.3,499.1 306.6,498.1 308.9,497.1 311.2,496.1 313.4,495.0 315.7,493.9 318.0,492.8 320.2,491.7 322.5,490.5 324.7,489.3 326.9,488.1 329.2,486.9 331.4,485.7 333.6,484.4 335.8,483.2 338.0,481.9 340.2,480.7 342.3,479.4 344.5,478.1 346.6,476.8 348.8,475.5 350.9,474.2 353.0,472.8 355.1,471.5 357.2,470.1 359.3,468.7 361.4,467.3 363.4,465.9 365.4,464.5 367.5,463.0 369.5,461.6 371.5,460.1 373.5,458.6 375.5,457.1 377.4,455.6 379.4,454.0 381.3,452.5 383.2,450.9 385.1,449.3 387.0,447.7 388.8,446.1 390.7,444.4 392.5,442.7 394.3,441.1 396.1,439.3 397.9,437.6 399.6,435.9 401.4,434.1 403.1,432.3 404.8,430.5 406.5,428.7 408.2,426.9 409.9,425.1 411.6,423.2 413.2,421.3 414.8,419.4 416.5,417.5 418.1,415.6 419.7,413.7 421.2,411.8 422.8,409.8 424.4,407.9 425.9,405.9 427.5,403.9 429.0,402.0 430.5,400.0 432.0,398.0 433.5,396.0 435.0,394.0 436.5,391.9 438.0,389.9 439.5,387.9 441.0,385.8 442.4,383.8 443.9,381.8 445.3,379.7 446.8,377.7 448.2,375.6 449.6,373.6 451.1,371.5 452.5,369.4 453.9,367.4 455.3,365.3 456.7,363.3 458.2,361.2 459.6,359.2 461.0,357.1 462.4,355.1 463.8,353.0 465.2,351.0 466.6,348.9 468.1,346.9 469.5,344.9 470.9,342.9 472.4,340.8 473.8,338.8 475.3,336.8 476.8,334.8 478.3,332.9 479.8,330.9 481.3,328.9 482.9,327.0 484.4,325.1 486.0,323.1 487.6,321.2 489.2,319.3 490.9,317.5 492.6,315.6 494.3,313.7 496.0,311.9 497.7,310.1 499.5,308.3 501.3,306.5 503.2,304.8 505.1,303.0 507.0,301.3 508.9,299.7 510.8,298.1 512.8,296.5 514.8,295.0 516.9,293.5 518.9,292.1 521.0,290.8 523.1,289.5 525.3,288.3 527.4,287.2 529.6,286.1 531.8,285.2 534.1,284.3 536.3,283.5 538.6,282.8 540.9,282.2 543.2,281.7 545.6,281.4 547.9,281.1 550.3,281.0 552.7,280.9 555.2,281.0 557.6,281.1 560.1,281.3 562.5,281.6 565.0,281.9 567.5,282.3 570.0,282.7 572.5,283.2 575.0,283.7 577.6,284.2 580.1,284.7 582.6,285.2 585.2,285.7 587.7,286.1 590.3,286.6 592.8,287.0 595.3,287.4 597.9,287.8 600.4,288.1 602.9,288.3 605.4,288.6 607.9,288.7 610.4,288.8 612.8,288.8 615.3,288.8 617.7,288.7 620.1,288.5 622.5,288.2 624.9,287.9 627.3,287.5 629.7,287.1 632.1,286.6 634.4,286.1 636.8,285.5 639.1,284.9 641.4,284.2 643.7,283.5 646.0,282.7 648.3,281.9 650.6,281.0 652.9,280.1 655.2,279.2 657.5,278.3 659.8,277.3 662.0,276.3 664.3,275.3 666.6,274.2 668.8,273.1 671.1,272.0 673.3,270.9 675.6,269.8 677.9,268.6 680.1,267.5 682.4,266.3 684.7,265.2 686.9,264.0 689.2,262.8 691.5,261.6 693.8,260.5 696.1,259.3 698.3,258.2 700.6,257.0 702.9,255.9 705.2,254.7 707.5,253.6 709.8,252.5 712.1,251.4 714.5,250.3 716.8,249.3 719.1,248.2 721.4,247.2 723.8,246.2 726.1,245.2 728.4,244.3 730.8,243.4 733.1,242.5 735.5,241.7 737.8,240.8 740.2,240.1 742.6,239.3 744.9,238.6 747.3,237.9 749.7,237.3 752.0,236.7 754.4,236.2 756.8,235.7 759.2,235.3 761.6,234.9 764.0,234.5 766.4,234.3 768.8,234.0 771.2,233.8 773.7,233.7 776.1,233.7 778.5,233.7 780.9,233.7 783.4,233.9 785.8,234.1 788.2,234.3 790.7,234.6 793.1,235.0 795.6,235.4 798.0,235.9 800.4,236.4 802.9,236.9 805.3,237.6 807.7,238.2 810.1,239.0 812.5,239.7 814.9,240.5 817.3,241.4 819.7,242.3 822.0,243.2 824.4,244.2 826.7,245.2 829.0,246.2 831.4,247.3 833.6,248.4 835.9,249.5 838.2,250.7 840.4,251.9 842.6,253.1 844.8,254.4 847.0,255.7 849.2,257.0 851.3,258.3 853.4,259.7 855.5,261.0 857.6,262.4 859.6,263.8 861.7,265.3 863.7,266.7 865.7,268.2 867.7,269.7 869.7,271.2 871.7,272.7 873.6,274.3 875.5,275.8 877.5,277.4 879.4,279.0 881.3,280.6 883.2,282.2 885.0,283.9 886.9,285.5 888.8,287.2 890.6,288.8 892.5,290.5 894.3,292.2 896.1,293.9 898.0,295.6 899.8,297.3 901.6,299.0 903.4,300.7 905.2,302.4 907.0,304.2 908.8,305.9 910.6,307.6 912.4,309.4 914.1,311.1 915.9,312.9 917.7,314.6 919.5,316.4 921.3,318.1 923.1,319.8 924.9,321.6 926.7,323.3 928.5,325.1 930.3,326.8 932.1,328.5 933.9,330.3 935.7,332.0 937.5,333.7 939.4,335.4 941.2,337.1 943.0,338.8 944.9,340.5 946.8,342.1 948.6,343.8 950.5,345.4 952.4,347.1 954.3,348.7 956.2,350.3 958.1,351.9 960.0,353.5 962.0,355.1 963.9,356.7 965.9,358.2 967.9,359.8 969.8,361.3 971.8,362.8 973.8,364.4 975.8,365.9 977.8,367.3 979.8,368.8 981.9,370.3 983.9,371.7 986.0,373.2 988.0,374.6 990.1,376.0 992.2,377.4 994.2,378.7 996.3,380.1 998.4,381.5 1000.5,382.8 1002.7,384.1 1004.8,385.4 1006.9,386.7 1009.1,388.0 1011.2,389.2 1013.4,390.5 1015.5,391.7 1017.7,392.9 1019.9,394.1 1022.1,395.3 1024.3,396.4 1026.5,397.6 1028.7,398.7 1031.0,399.8 1033.2,400.9 1035.4,402.0 1037.7,403.0 1039.9,404.1 1042.2,405.1 1044.5,406.1 1046.8,407.1 1049.1,408.1 1051.3,409.0 1053.7,409.9 1056.0,410.8 1058.3,411.7 1060.6,412.6 1062.9,413.5 1065.3,414.3 1067.6,415.1 1070.0,415.9 1072.4,416.7 1074.7,417.4 1077.1,418.2 1079.5,418.9 1081.9,419.6 1084.3,420.3 1086.7,421.0 1089.1,421.6 1091.5,422.3 1093.9,422.9 1096.4,423.5 1098.8,424.1 1101.2,424.7 1103.7,425.3 1106.1,425.8 1108.5,426.4 1111.0,426.9 1113.5,427.5 1115.9,428.0 1118.4,428.5 1120.8,429.0 1123.3,429.5 1125.8,430.0 1128.2,430.5 1130.7,431.0 1133.2,431.5 1135.7,432.0 1138.1,432.4 1140.6,432.9 1143.1,433.4 1145.6,433.8 1148.1,434.3 1150.6,434.8 1153.0,435.2 1155.5,435.7 1158.0,436.1 1160.5,436.6 1163.0,437.1 1165.4,437.5 1167.9,438.0 1170.4,438.4 1172.9,438.8 1175.3,439.2 1177.8,439.6 1180.3,439.9 1182.7,440.1 1185.1,440.3 1187.6,440.5 1190.0,440.5 1192.4,440.5 1194.8,440.4 1197.2,440.3 1199.5,440.0 1201.9,439.6 1204.2,439.1 1206.5,438.5 1208.9,437.9 1211.2,437.1 1213.5,436.3 1215.7,435.4 1218.0,434.4 1220.3,433.4 1222.5,432.3 1224.8,431.2 1227.1,430.0 1229.3,428.7 1231.6,427.5 1233.8,426.2 1236.1,424.9 1238.3,423.6 1240.6,422.3 1242.8,421.1 1245.1,419.8 1247.4,418.6 1249.7,417.4 1252.0,416.3 1254.3,415.2 1256.6,414.2 1258.9,413.2 1261.2,412.4 1263.6,411.6 1266.0,410.9 1268.4,410.4 1270.8,409.9 1273.2,409.6 1275.6,409.3 1278.0,409.2 1280.5,409.1 1282.9,409.2 1285.4,409.3 1287.8,409.6 1290.2,409.9 1292.6,410.3 1295.0,410.8 1297.4,411.4 1299.8,412.0 1302.2,412.8 1304.5,413.6 1306.8,414.5 1309.1,415.5 1311.4,416.5 1313.6,417.6 1315.8,418.8 1317.9,420.0 1320.1,421.4 1322.2,422.7 1324.2,424.1 1326.2,425.6 1328.2,427.1 1330.2,428.7 1332.2,430.3 1334.1,431.9 1336.0,433.5 1337.9,435.1 1339.8,436.8 1341.7,438.5 1343.5,440.2 1345.4,441.8 1347.3,443.5 1349.1,445.2 1351.0,446.8 1352.9,448.4 1354.7,450.1 1356.6,451.7 1358.5,453.3 1360.3,454.9 1362.2,456.5 1364.1,458.1 1365.9,459.7 1367.8,461.3 1369.6,462.9 1371.4,464.6 1373.3,466.2 1375.1,467.8 1376.9,469.5 1378.7,471.2 1380.4,472.9 1382.2,474.6 1383.9,476.4 1385.6,478.1 1387.2,479.9 1388.9,481.7 1390.5,483.6 1392.1,485.4 1393.7,487.3 1395.3,489.2 1396.8,491.1 1398.4,493.1 1399.9,495.0 1401.4,497.0 1402.8,499.0 1404.3,501.0 1405.7,503.0 1407.1,505.1 1408.5,507.1 1409.9,509.2 1411.3,511.3 1412.6,513.4 1413.9,515.5 1415.3,517.7 1416.6,519.8 1417.8,522.0 1419.1,524.1 1420.3,526.3 1421.6,528.5 1422.8,530.7 1424.0,532.9 1425.2,535.1 1426.3,537.4 1427.5,539.6 1428.6,541.9 1429.7,544.1 1430.9,546.4 1432.0,548.6 1433.0,550.9 1434.1,553.2 1435.2,555.5 1436.2,557.8 1437.3,560.1 1438.3,562.4 1439.3,564.7 1440.3,567.0 1441.3,569.3 1442.2,571.6 1443.2,573.9 1444.2,576.2 1445.1,578.6 1446.0,580.9 1447.0,583.2 1447.9,585.5 1448.8,587.9 1449.6,590.2 1450.5,592.6 1451.4,594.9 1452.3,597.2 1453.1,599.6 1453.9,601.9 1454.8,604.3 1455.6,606.7 1456.4,609.0 1457.2,611.4 1458.0,613.7 1458.8,616.1 1459.5,618.5 1460.3,620.8 1461.1,623.2 1461.8,625.6 1462.6,628.0 1463.3,630.3 1464.0,632.7 1464.7,635.1 1465.4,637.5 1466.1,639.9 1466.8,642.3 1467.5,644.7 1468.2,647.1 1468.9,649.5 1469.5,651.9 1470.2,654.3 1470.9,656.7 1471.5,659.1 1472.1,661.5 1472.8,663.9 1473.4,666.3 1474.0,668.7 1474.6,671.1 1475.3,673.5 1475.9,676.0 1476.5,678.4 1477.1,680.8 1477.7,683.2 1478.2,685.6 1478.8,688.1 1479.4,690.5 1480.0,692.9 1480.5,695.3 1481.1,697.8 1481.7,700.2 1482.2,702.6 1482.8,705.1 1483.3,707.5 1483.8,709.9 1484.4,712.4 1484.9,714.8 1485.5,717.2 1486.0,719.7 1486.5,722.1 1487.0,724.6 1487.6,727.0 1488.1,729.4 1488.6,731.9 1489.1,734.3 1489.6,736.8 1490.1,739.2 1490.7,741.7 1491.2,744.1 1491.7,746.6 1492.2,749.0 1492.7,751.5 1493.2,753.9 1493.7,756.4 1494.2,758.8 1494.7,761.3 1495.2,763.7 1495.7,766.2 1496.2,768.6 1496.7,771.1 1497.2,773.5 1497.7,776.0 1498.2,778.4 1498.7,780.9 1499.2,783.3 1499.7,785.8 1500.2,788.2 1500.7,790.7 1501.2,793.1 1501.7,795.6 1502.2,798.0 1502.7,800.5 1503.3,802.9 1503.8,805.4 1504.3,807.8 1504.8,810.3 1505.4,812.7 1505.9,815.1 1506.4,817.6 1507.0,820.0 1507.5,822.5 1508.1,824.9 1508.7,827.4 1509.2,829.8 1509.8,832.2 1510.4,834.7 1511.0,837.1 1511.6,839.5 1512.2,841.9 1512.8,844.4 1513.4,846.8 1514.1,849.2 1514.7,851.6 1515.4,854.1 1516.0,856.5 1516.7,858.9 1517.4,861.3 1518.1,863.7 1518.8,866.1 1519.5,868.5 1520.2,870.9 1521.0,873.3 1521.7,875.7 1522.5,878.1 1523.3,880.5 1524.1,882.8 1524.9,885.2 1525.7,887.6 1526.6,890.0 1527.4,892.3 1528.3,894.7 1529.2,897.1 1530.1,899.4 1531.0,901.8 1531.9,904.1 1532.9,906.5 1533.8,908.8 1534.8,911.2 1535.8,913.5 1536.8,915.8 1537.9,918.1 1538.9,920.5 1540.0,922.8 1541.1,925.1 1542.2,927.4 1543.3,929.7 1544.5,932.0 1545.7,934.2 1546.9,936.5 1548.2,938.7 1549.5,940.8 1550.9,942.8 1552.3,944.7 1553.9,946.4 1555.5,948.1 1557.2,949.5 1559.1,950.8 1561.0,952.0 1562.9,952.9 1565.0,953.7 1567.1,954.2 1569.2,954.6 1571.4,954.8 1573.6,954.8 1575.9,954.6 1578.1,954.2 1580.4,953.6 1582.6,952.9 1584.8,952.0 1586.9,951.0 1589.0,949.9 1591.0,948.6 1593.0,947.3 1595.0,945.8 1596.8,944.3 1598.7,942.6 1600.5,940.9 1602.2,939.1 1603.9,937.2 1605.6,935.3 1607.3,933.3 1608.9,931.3 1610.5,929.2 1612.0,927.0 1613.6,924.8 1615.1,922.6 1616.6,920.4 1618.1,918.2 1619.6,915.9 1621.1,913.7 1622.6,911.4 1624.0,909.2 1625.5,907.0 1627.0,904.8 1628.5,902.6 1630.0,900.4 1631.5,898.3 1633.0,896.2 1634.5,894.1 1636.0,892.1 1637.6,890.0 1639.1,888.0 1640.6,886.0 1642.2,884.1 1643.7,882.1 1645.3,880.2 1646.9,878.2 1648.4,876.3 1650.0,874.4 1651.6,872.5 1653.2,870.7 1654.8,868.8 1656.3,867.0 1657.9,865.1 1659.5,863.3 1661.1,861.5 1662.7,859.6 1664.3,857.8 1666.0,856.0 1667.6,854.2 1669.2,852.4 1670.8,850.6 1672.4,848.7 1674.0,846.9 1675.7,845.1 1677.3,843.3 1678.9,841.5 1680.5,839.6 1682.2,837.8 1683.8,835.9 1685.4,834.1 1687.1,832.2 1688.7,830.4 1690.3,828.5 1691.9,826.7 1693.6,824.8 1695.2,822.9 1696.9,821.1 1698.5,819.2 1700.1,817.3 1701.8,815.4 1703.4,813.5 1705.0,811.7 1706.7,809.8 1708.3,807.9 1710.0,806.0 1711.6,804.1 1713.2,802.2 1714.9,800.3 1716.5,798.4 1718.2,796.5 1719.8,794.6 1721.4,792.6 1723.1,790.7 1724.7,788.8 1726.4,786.9 1728.0,785.0 1729.6,783.1 1731.3,781.2 1732.9,779.3 1734.6,777.3 1736.2,775.4 1737.9,773.5 1739.5,771.6 1741.1,769.7 1742.8,767.8 1744.4,765.8 1746.1,763.9 1747.7,762.0 1749.3,760.1 1751.0,758.2 1752.6,756.3 1754.3,754.4 1755.9,752.5 1757.5,750.6 1759.2,748.7 1760.8,746.8 1762.4,744.9 1764.1,743.0 1765.7,741.1 1767.4,739.2 1769.0,737.3 1770.6,735.4 1772.3,733.5 1773.9,731.6 1775.6,729.7 1777.2,727.9 1778.9,726.0 1780.5,724.1 1782.2,722.3 1783.9,720.4 1785.5,718.6 1787.2,716.7 1788.9,714.9 1790.5,713.0 1792.2,711.2 1793.9,709.3 1795.6,707.5 1797.3,705.7 1799.0,703.9 1800.7,702.1 1802.4,700.2 1804.1,698.4 1805.8,696.7 1807.5,694.9 1809.2,693.1 1811.0,691.3 1812.7,689.5 1814.5,687.8 1816.2,686.0 1818.0,684.3 1819.7,682.5 1821.5,680.8 1823.3,679.0 1825.1,677.3 1826.9,675.6 1828.7,673.9 1830.5,672.2 1832.3,670.5 1834.1,668.8 1835.9,667.2 1837.8,665.5 1839.6,663.8 1841.5,662.2 1843.3,660.6 1845.2,658.9 1847.1,657.3 1849.0,655.7 1850.9,654.1 1852.8,652.5 1854.8,650.9 1856.7,649.3 1858.6,647.8 1860.6,646.2 1862.5,644.7 1864.5,643.1 1866.5,641.6 1868.5,640.0 1870.4,638.5 1872.4,637.0 1874.4,635.5 1876.4,633.9 1878.4,632.4 1880.4,630.9 1882.3,629.3 1884.3,627.8 1886.3,626.3 1888.3,624.7 1890.3,623.2 1892.2,621.7 1894.2,620.1 1896.2,618.6 1898.1,617.0 1900.1,615.4 1902.0,613.8 1904.0,612.2 1905.9,610.6 1907.8,609.0 1909.7,607.4 1911.6,605.8 1913.5,604.1 1915.3,602.5 1917.2,600.8 1919.0,599.1 1920.8,597.4 1922.6,595.7 1924.4,593.9 1926.2,592.2 1927.9,590.4 1929.7,588.6 1931.4,586.8 1933.1,584.9 1934.8,583.1 1936.5,581.2 1938.1,579.4 1939.8,577.5 1941.4,575.6 1943.0,573.7 1944.7,571.8 1946.3,569.9 1947.9,567.9 1949.5,566.0 1951.2,564.1 1952.8,562.2 1954.4,560.3 1956.0,558.4 1957.6,556.5 1959.3,554.6 1960.9,552.7 1962.6,550.8 1964.2,549.0 1965.9,547.1 1967.6,545.3 1969.3,543.5 1971.0,541.7 1972.8,539.9 1974.5,538.2 1976.3,536.5 1978.1,534.8 1979.9,533.1 1981.7,531.4 1983.6,529.8 1985.5,528.2 1987.4,526.7 1989.4,525.1 1991.4,523.7 1993.4,522.2 1995.5,520.8 1997.5,519.4 1999.7,518.1 2001.8,516.8 2004.0,515.5 2006.2,514.3 2008.5,513.1 2010.7,511.9 2013.0,510.8 2015.3,509.6 2017.6,508.5 2019.9,507.4 2022.1,506.3 2024.4,505.2 2026.7,504.1 2029.0,503.0 2031.2,501.8 2033.4,500.7 2035.6,499.6 2037.8,498.4 2039.9,497.2 2042.0,496.0" stroke="#0000ff" stroke-width="5.6" stroke-dasharray="19.5 7 6.5 7"/>
</g>
<line x1="207.6" y1="471.40" x2="2042.3" y2="471.40" stroke="#000" stroke-width="4.4"/>
<path d="M213.60,1034.40v-18M213.60,49.60v18M396.98,1034.40v-18M396.98,49.60v18M580.35,1034.40v-18M580.35,49.60v18M763.73,1034.40v-18M763.73,49.60v18M947.10,1034.40v-18M947.10,49.60v18M1130.47,1034.40v-18M1130.47,49.60v18M1313.85,1034.40v-18M1313.85,49.60v18M1497.23,1034.40v-18M1497.23,49.60v18M1680.60,1034.40v-18M1680.60,49.60v18M1863.97,1034.40v-18M1863.97,49.60v18M207.60,49.60h18M2042.30,49.60h-18M207.60,190.20h18M2042.30,190.20h-18M207.60,330.80h18M2042.30,330.80h-18M207.60,471.40h18M2042.30,471.40h-18M207.60,612.00h18M2042.30,612.00h-18M207.60,752.60h18M2042.30,752.60h-18M207.60,893.20h18M2042.30,893.20h-18M207.60,1033.80h18M2042.30,1033.80h-18" stroke="#000" stroke-width="4.4" fill="none"/>
<rect x="207.60" y="49.60" width="1834.70" height="984.80" fill="none" stroke="#000" stroke-width="4.4"/>
<text class="tk" x="199.5" y="68.10" text-anchor="end">3</text>
<text class="tk" x="199.5" y="208.70" text-anchor="end">2</text>
<text class="tk" x="199.5" y="349.30" text-anchor="end">1</text>
<text class="tk" x="199.5" y="489.90" text-anchor="end">0</text>
<text class="tk" x="199.5" y="630.50" text-anchor="end">-1</text>
<text class="tk" x="199.5" y="771.10" text-anchor="end">-2</text>
<text class="tk" x="199.5" y="911.70" text-anchor="end">-3</text>
<text class="tk" x="199.5" y="1052.30" text-anchor="end">-4</text>
<clipPath id="c1077"><rect x="207.6" y="1077.8" width="1834.7" height="984.4"/></clipPath>
<g clip-path="url(#c1077)" fill="none" stroke-linejoin="round">
<path d="M207.0,1550.0 L207.9,1547.7 208.8,1545.3 209.7,1543.0 210.6,1540.7 211.4,1538.4 212.3,1536.0 213.1,1533.7 214.0,1531.4 214.8,1529.0 215.6,1526.7 216.4,1524.3 217.2,1521.9 218.0,1519.6 218.8,1517.2 219.6,1514.8 220.4,1512.4 221.1,1510.1 221.9,1507.7 222.7,1505.3 223.4,1502.9 224.2,1500.5 224.9,1498.1 225.7,1495.7 226.4,1493.3 227.1,1490.9 227.9,1488.5 228.6,1486.1 229.3,1483.7 230.1,1481.3 230.8,1478.9 231.5,1476.5 232.3,1474.1 233.0,1471.7 233.7,1469.3 234.4,1466.9 235.2,1464.5 235.9,1462.1 236.6,1459.7 237.4,1457.3 238.1,1454.9 238.9,1452.5 239.6,1450.1 240.4,1447.7 241.1,1445.3 241.9,1442.9 242.6,1440.6 243.4,1438.2 244.2,1435.8 245.0,1433.5 245.8,1431.1 246.6,1428.7 247.4,1426.4 248.2,1424.0 249.0,1421.7 249.8,1419.4 250.6,1417.0 251.5,1414.7 252.3,1412.4 253.2,1410.1 254.1,1407.8 255.0,1405.5 255.9,1403.2 256.8,1400.9 257.7,1398.6 258.6,1396.3 259.6,1394.1 260.5,1391.8 261.5,1389.5 262.5,1387.3 263.5,1385.0 264.5,1382.7 265.6,1380.4 266.6,1378.1 267.7,1375.8 268.9,1373.4 270.0,1371.0 271.2,1368.7 272.5,1366.3 273.8,1364.0 275.2,1361.8 276.8,1359.7 278.6,1357.7 280.5,1355.9 282.6,1354.2 285.0,1352.8 287.4,1351.7 289.8,1351.1 292.1,1351.0 294.2,1351.6 296.0,1352.8 297.7,1354.4 299.2,1356.3 300.6,1358.4 302.0,1360.5 303.3,1362.7 304.6,1364.8 305.9,1367.0 307.1,1369.1 308.3,1371.3 309.5,1373.5 310.6,1375.8 311.7,1378.0 312.8,1380.2 313.8,1382.5 314.9,1384.7 315.8,1387.0 316.8,1389.3 317.7,1391.6 318.6,1393.9 319.5,1396.2 320.4,1398.5 321.2,1400.8 322.0,1403.2 322.8,1405.5 323.5,1407.9 324.3,1410.3 325.0,1412.6 325.7,1415.0 326.3,1417.4 327.0,1419.8 327.6,1422.2 328.2,1424.6 328.8,1427.0 329.4,1429.5 329.9,1431.9 330.5,1434.3 331.0,1436.8 331.5,1439.2 332.0,1441.7 332.5,1444.1 333.0,1446.6 333.5,1449.1 333.9,1451.5 334.4,1454.0 334.8,1456.5 335.2,1459.0 335.6,1461.4 336.0,1463.9 336.4,1466.4 336.8,1468.9 337.2,1471.4 337.6,1473.9 338.0,1476.4 338.3,1478.9 338.7,1481.4 339.1,1483.9 339.4,1486.4 339.8,1488.8 340.2,1491.3 340.5,1493.8 340.9,1496.3 341.2,1498.8 341.6,1501.3 342.0,1503.8 342.3,1506.3 342.7,1508.8 343.1,1511.3 343.4,1513.7 343.8,1516.2 344.2,1518.7 344.6,1521.2 345.0,1523.7 345.3,1526.1 345.7,1528.6 346.1,1531.1 346.5,1533.6 346.9,1536.0 347.3,1538.5 347.7,1541.0 348.1,1543.4 348.5,1545.9 348.9,1548.4 349.2,1550.8 349.6,1553.3 350.0,1555.8 350.4,1558.2 350.8,1560.7 351.3,1563.2 351.7,1565.6 352.1,1568.1 352.5,1570.5 352.9,1573.0 353.3,1575.5 353.7,1577.9 354.1,1580.4 354.5,1582.8 354.9,1585.3 355.3,1587.8 355.8,1590.2 356.2,1592.7 356.6,1595.1 357.0,1597.6 357.4,1600.0 357.8,1602.5 358.3,1604.9 358.7,1607.4 359.1,1609.8 359.5,1612.3 359.9,1614.7 360.4,1617.2 360.8,1619.7 361.2,1622.1 361.6,1624.6 362.0,1627.0 362.5,1629.5 362.9,1631.9 363.3,1634.4 363.7,1636.8 364.1,1639.3 364.6,1641.7 365.0,1644.2 365.4,1646.6 365.8,1649.1 366.3,1651.6 366.7,1654.0 367.1,1656.5 367.5,1658.9 367.9,1661.4 368.4,1663.8 368.8,1666.3 369.2,1668.8 369.6,1671.2 370.0,1673.7 370.5,1676.2 370.9,1678.6 371.3,1681.1 371.7,1683.5 372.1,1686.0 372.6,1688.5 373.0,1690.9 373.4,1693.4 373.8,1695.9 374.2,1698.3 374.6,1700.8 375.1,1703.3 375.5,1705.7 375.9,1708.2 376.3,1710.7 376.7,1713.1 377.2,1715.6 377.6,1718.1 378.0,1720.6 378.4,1723.0 378.8,1725.5 379.3,1728.0 379.7,1730.4 380.1,1732.9 380.5,1735.4 381.0,1737.8 381.4,1740.3 381.8,1742.8 382.3,1745.3 382.7,1747.7 383.1,1750.2 383.6,1752.7 384.0,1755.1 384.4,1757.6 384.9,1760.1 385.3,1762.5 385.7,1765.0 386.2,1767.5 386.6,1769.9 387.1,1772.4 387.5,1774.9 388.0,1777.3 388.4,1779.8 388.9,1782.2 389.3,1784.7 389.8,1787.2 390.3,1789.6 390.7,1792.1 391.2,1794.5 391.7,1797.0 392.1,1799.5 392.6,1801.9 393.1,1804.4 393.6,1806.8 394.1,1809.3 394.5,1811.7 395.0,1814.2 395.5,1816.6 396.0,1819.1 396.5,1821.5 397.0,1824.0 397.5,1826.4 398.0,1828.8 398.5,1831.3 399.0,1833.7 399.5,1836.2 400.1,1838.6 400.6,1841.0 401.1,1843.5 401.6,1845.9 402.2,1848.3 402.7,1850.8 403.3,1853.2 403.8,1855.6 404.4,1858.0 404.9,1860.5 405.5,1862.9 406.1,1865.3 406.6,1867.7 407.2,1870.1 407.8,1872.5 408.4,1874.9 409.1,1877.3 409.7,1879.8 410.3,1882.2 411.0,1884.6 411.7,1887.0 412.4,1889.4 413.1,1891.7 413.8,1894.1 414.5,1896.5 415.3,1898.9 416.1,1901.3 416.8,1903.7 417.7,1906.1 418.5,1908.4 419.4,1910.8 420.2,1913.2 421.1,1915.5 422.1,1917.9 423.0,1920.3 424.0,1922.6 425.0,1924.9 426.1,1927.3 427.2,1929.5 428.3,1931.8 429.5,1934.0 430.8,1936.2 432.1,1938.3 433.5,1940.4 435.0,1942.4 436.5,1944.3 438.2,1946.2 439.9,1948.0 441.7,1949.7 443.7,1951.3 445.7,1952.9 447.8,1954.3 450.0,1955.5 452.3,1956.4 454.6,1957.1 457.0,1957.3 459.4,1957.2 461.7,1956.6 464.0,1955.7 466.3,1954.6 468.4,1953.2 470.5,1951.6 472.4,1949.9 474.2,1948.1 475.9,1946.1 477.4,1944.1 478.9,1942.0 480.2,1939.8 481.5,1937.5 482.7,1935.3 483.8,1933.0 484.8,1930.6 485.8,1928.3 486.7,1926.0 487.6,1923.6 488.5,1921.2 489.3,1918.9 490.1,1916.5 490.9,1914.1 491.6,1911.7 492.4,1909.4 493.2,1907.0 494.0,1904.6 494.8,1902.3 495.7,1899.9 496.5,1897.6 497.4,1895.3 498.3,1892.9 499.2,1890.6 500.1,1888.3 501.0,1886.0 501.9,1883.7 502.8,1881.4 503.8,1879.1 504.7,1876.8 505.7,1874.5 506.6,1872.2 507.6,1869.9 508.6,1867.7 509.6,1865.4 510.6,1863.1 511.7,1860.9 512.7,1858.6 513.7,1856.3 514.8,1854.1 515.8,1851.8 516.9,1849.6 517.9,1847.3 519.0,1845.1 520.1,1842.8 521.2,1840.6 522.3,1838.3 523.4,1836.1 524.5,1833.8 525.6,1831.6 526.7,1829.4 527.8,1827.1 528.9,1824.9 530.1,1822.6 531.2,1820.4 532.3,1818.2 533.5,1815.9 534.6,1813.7 535.8,1811.5 536.9,1809.2 538.1,1807.0 539.3,1804.8 540.5,1802.6 541.7,1800.4 542.9,1798.2 544.1,1796.0 545.4,1793.8 546.6,1791.6 547.8,1789.4 549.1,1787.3 550.4,1785.1 551.7,1782.9 553.0,1780.8 554.3,1778.7 555.6,1776.5 556.9,1774.4 558.3,1772.3 559.6,1770.2 561.0,1768.1 562.4,1766.1 563.8,1764.0 565.2,1761.9 566.7,1759.9 568.1,1757.9 569.6,1755.9 571.1,1753.9 572.6,1751.9 574.1,1749.9 575.7,1748.0 577.3,1746.0 578.8,1744.1 580.4,1742.2 582.1,1740.3 583.7,1738.4 585.4,1736.6 587.0,1734.7 588.7,1732.9 590.4,1731.1 592.2,1729.3 593.9,1727.5 595.6,1725.7 597.4,1723.9 599.1,1722.1 600.9,1720.4 602.7,1718.6 604.4,1716.8 606.2,1715.1 608.0,1713.3 609.7,1711.5 611.5,1709.8 613.3,1708.0 615.0,1706.2 616.8,1704.5 618.5,1702.7 620.3,1700.9 622.0,1699.1 623.7,1697.3 625.4,1695.4 627.1,1693.6 628.8,1691.8 630.5,1689.9 632.1,1688.1 633.8,1686.2 635.4,1684.4 637.1,1682.5 638.7,1680.6 640.3,1678.7 641.9,1676.8 643.5,1674.9 645.1,1673.0 646.7,1671.1 648.3,1669.1 649.8,1667.2 651.4,1665.3 652.9,1663.3 654.4,1661.3 655.9,1659.4 657.4,1657.4 658.9,1655.4 660.4,1653.4 661.8,1651.4 663.3,1649.4 664.7,1647.3 666.1,1645.3 667.5,1643.2 668.9,1641.2 670.3,1639.1 671.7,1637.1 673.0,1635.0 674.4,1632.9 675.7,1630.8 677.1,1628.7 678.4,1626.6 679.7,1624.5 681.0,1622.3 682.3,1620.2 683.6,1618.1 684.9,1615.9 686.2,1613.8 687.4,1611.6 688.7,1609.5 689.9,1607.3 691.2,1605.2 692.4,1603.0 693.6,1600.8 694.8,1598.6 696.0,1596.4 697.2,1594.2 698.4,1592.0 699.6,1589.8 700.8,1587.6 702.0,1585.4 703.2,1583.2 704.4,1581.0 705.5,1578.8 706.7,1576.5 707.9,1574.3 709.0,1572.1 710.2,1569.9 711.3,1567.6 712.5,1565.4 713.6,1563.2 714.7,1560.9 715.9,1558.7 717.0,1556.4 718.2,1554.2 719.3,1552.0 720.4,1549.7 721.5,1547.5 722.7,1545.2 723.8,1543.0 724.9,1540.7 726.1,1538.5 727.2,1536.2 728.3,1534.0 729.4,1531.7 730.6,1529.5 731.7,1527.3 732.8,1525.0 733.9,1522.8 735.1,1520.5 736.2,1518.3 737.3,1516.1 738.5,1513.8 739.6,1511.6 740.8,1509.4 741.9,1507.1 743.1,1504.9 744.2,1502.7 745.4,1500.5 746.5,1498.3 747.7,1496.0 748.9,1493.8 750.0,1491.6 751.2,1489.4 752.4,1487.2 753.6,1485.0 754.8,1482.9 756.0,1480.7 757.2,1478.5 758.4,1476.3 759.6,1474.2 760.9,1472.0 762.1,1469.8 763.3,1467.7 764.6,1465.5 765.8,1463.4 767.1,1461.3 768.4,1459.1 769.7,1457.0 770.9,1454.9 772.2,1452.8 773.5,1450.7 774.9,1448.6 776.2,1446.5 777.5,1444.4 778.9,1442.4 780.2,1440.3 781.6,1438.3 783.0,1436.2 784.4,1434.2 785.8,1432.2 787.2,1430.1 788.6,1428.1 790.1,1426.1 791.5,1424.2 793.0,1422.2 794.5,1420.2 796.0,1418.3 797.6,1416.3 799.1,1414.4 800.7,1412.5 802.3,1410.6 804.0,1408.7 805.6,1406.9 807.3,1405.0 809.0,1403.2 810.8,1401.3 812.6,1399.5 814.4,1397.8 816.2,1396.0 818.1,1394.2 820.0,1392.5 821.9,1390.8 823.9,1389.1 825.9,1387.4 827.9,1385.8 830.0,1384.2 832.1,1382.6 834.3,1381.1 836.4,1379.6 838.6,1378.1 840.8,1376.7 843.1,1375.4 845.3,1374.1 847.6,1372.9 849.9,1371.8 852.2,1370.8 854.5,1369.8 856.8,1368.9 859.2,1368.1 861.5,1367.4 863.9,1366.8 866.2,1366.3 868.6,1365.9 871.0,1365.7 873.3,1365.5 875.7,1365.5 878.0,1365.6 880.4,1365.8 882.7,1366.1 885.1,1366.5 887.4,1367.0 889.7,1367.6 892.1,1368.3 894.4,1369.0 896.7,1369.9 899.0,1370.8 901.3,1371.7 903.6,1372.7 905.9,1373.8 908.2,1374.9 910.5,1376.1 912.7,1377.3 915.0,1378.5 917.2,1379.8 919.4,1381.1 921.7,1382.3 923.9,1383.6 926.1,1385.0 928.3,1386.3 930.4,1387.6 932.6,1388.9 934.8,1390.3 936.9,1391.6 939.0,1392.9 941.2,1394.3 943.3,1395.7 945.4,1397.0 947.5,1398.4 949.6,1399.8 951.7,1401.2 953.7,1402.6 955.8,1404.0 957.8,1405.4 959.9,1406.8 961.9,1408.2 964.0,1409.7 966.0,1411.1 968.0,1412.5 970.1,1414.0 972.1,1415.5 974.1,1416.9 976.1,1418.4 978.1,1419.9 980.1,1421.4 982.1,1422.8 984.0,1424.3 986.0,1425.8 988.0,1427.3 990.0,1428.8 992.0,1430.4 993.9,1431.9 995.9,1433.4 997.9,1434.9 999.9,1436.4 1001.8,1437.9 1003.8,1439.4 1005.8,1440.9 1007.7,1442.5 1009.7,1444.0 1011.7,1445.5 1013.7,1447.0 1015.7,1448.5 1017.6,1450.0 1019.6,1451.5 1021.6,1453.0 1023.6,1454.5 1025.6,1456.0 1027.6,1457.4 1029.6,1458.9 1031.6,1460.4 1033.6,1461.8 1035.7,1463.3 1037.7,1464.7 1039.7,1466.1 1041.8,1467.6 1043.8,1469.0 1045.9,1470.4 1048.0,1471.8 1050.1,1473.2 1052.1,1474.5 1054.2,1475.9 1056.4,1477.2 1058.5,1478.6 1060.6,1479.9 1062.7,1481.2 1064.9,1482.5 1067.1,1483.7 1069.2,1485.0 1071.4,1486.2 1073.6,1487.5 1075.8,1488.7 1078.1,1489.9 1080.3,1491.0 1082.5,1492.2 1084.8,1493.4 1087.1,1494.5 1089.3,1495.6 1091.6,1496.8 1093.9,1497.9 1096.2,1499.0 1098.5,1500.1 1100.8,1501.2 1103.1,1502.3 1105.4,1503.4 1107.6,1504.5 1109.9,1505.6 1112.2,1506.7 1114.5,1507.8 1116.8,1508.9 1119.1,1510.0 1121.3,1511.1 1123.6,1512.3 1125.9,1513.4 1128.1,1514.5 1130.3,1515.7 1132.6,1516.8 1134.8,1518.0 1137.0,1519.2 1139.1,1520.4 1141.3,1521.6 1143.5,1522.9 1145.6,1524.1 1147.7,1525.4 1149.8,1526.7 1151.9,1528.0 1153.9,1529.4 1156.0,1530.7 1158.0,1532.1 1160.0,1533.5 1161.9,1535.0 1163.9,1536.5 1165.8,1538.0 1167.7,1539.5 1169.5,1541.0 1171.3,1542.6 1173.1,1544.3 1174.9,1545.9 1176.7,1547.6 1178.4,1549.3 1180.1,1551.0 1181.8,1552.7 1183.5,1554.5 1185.1,1556.3 1186.7,1558.1 1188.3,1560.0 1189.8,1561.8 1191.4,1563.7 1192.9,1565.6 1194.4,1567.6 1195.9,1569.5 1197.3,1571.5 1198.8,1573.5 1200.2,1575.5 1201.6,1577.5 1202.9,1579.6 1204.3,1581.7 1205.6,1583.8 1206.9,1585.9 1208.2,1588.0 1209.5,1590.1 1210.7,1592.3 1212.0,1594.5 1213.2,1596.7 1214.4,1598.9 1215.5,1601.1 1216.7,1603.3 1217.8,1605.6 1219.0,1607.8 1220.1,1610.1 1221.2,1612.4 1222.3,1614.7 1223.3,1617.0 1224.4,1619.3 1225.4,1621.6 1226.4,1624.0 1227.4,1626.3 1228.4,1628.7 1229.4,1631.0 1230.3,1633.4 1231.2,1635.8 1232.2,1638.2 1233.1,1640.6 1234.0,1643.0 1234.9,1645.4 1235.8,1647.8 1236.6,1650.2 1237.5,1652.6 1238.3,1655.0 1239.1,1657.5 1240.0,1659.9 1240.8,1662.3 1241.6,1664.7 1242.4,1667.2 1243.1,1669.6 1243.9,1672.1 1244.6,1674.5 1245.4,1676.9 1246.1,1679.4 1246.9,1681.8 1247.6,1684.2 1248.3,1686.7 1249.0,1689.1 1249.7,1691.5 1250.4,1694.0 1251.1,1696.4 1251.7,1698.8 1252.4,1701.2 1253.1,1703.6 1253.7,1706.0 1254.4,1708.4 1255.0,1710.8 1255.7,1713.2 1256.3,1715.6 1256.9,1717.9 1257.6,1720.3 1258.2,1722.7 1258.8,1725.0 1259.5,1727.4 1260.1,1729.8 1260.7,1732.1 1261.4,1734.5 1262.0,1736.8 1262.7,1739.2 1263.3,1741.5 1264.0,1743.9 1264.6,1746.2 1265.3,1748.6 1265.9,1750.9 1266.6,1753.3 1267.3,1755.6 1268.0,1757.9 1268.7,1760.3 1269.4,1762.6 1270.1,1765.0 1270.8,1767.3 1271.6,1769.6 1272.3,1772.0 1273.1,1774.3 1273.9,1776.7 1274.7,1779.0 1275.5,1781.3 1276.3,1783.7 1277.1,1786.0 1278.0,1788.4 1278.9,1790.7 1279.8,1793.1 1280.8,1795.5 1281.8,1797.8 1282.9,1800.2 1284.0,1802.6 1285.2,1805.0 1286.4,1807.4 1287.7,1809.9 1289.1,1812.3 1290.6,1814.8 1292.1,1817.2 1293.7,1819.5 1295.4,1821.6 1297.1,1823.5 1298.9,1825.1 1300.7,1826.2 1302.5,1826.9 1304.4,1827.1 1306.2,1826.6 1308.1,1825.7 1310.0,1824.3 1311.8,1822.6 1313.5,1820.6 1315.2,1818.3 1316.8,1815.9 1318.3,1813.5 1319.7,1811.0 1321.0,1808.5 1322.2,1806.0 1323.3,1803.6 1324.3,1801.1 1325.2,1798.7 1326.0,1796.2 1326.8,1793.8 1327.5,1791.4 1328.1,1789.0 1328.7,1786.6 1329.3,1784.2 1329.8,1781.8 1330.2,1779.3 1330.7,1776.9 1331.1,1774.5 1331.6,1772.1 1332.0,1769.7 1332.4,1767.3 1332.8,1764.9 1333.2,1762.5 1333.7,1760.1 1334.1,1757.6 1334.6,1755.2 1335.0,1752.8 1335.4,1750.4 1335.9,1747.9 1336.3,1745.5 1336.8,1743.1 1337.2,1740.6 1337.7,1738.2 1338.1,1735.8 1338.6,1733.3 1339.0,1730.9 1339.5,1728.4 1339.9,1726.0 1340.4,1723.5 1340.9,1721.1 1341.3,1718.6 1341.8,1716.2 1342.2,1713.7 1342.7,1711.3 1343.1,1708.8 1343.6,1706.4 1344.1,1703.9 1344.5,1701.4 1345.0,1699.0 1345.4,1696.5 1345.9,1694.0 1346.3,1691.6 1346.8,1689.1 1347.2,1686.6 1347.7,1684.2 1348.1,1681.7 1348.6,1679.2 1349.0,1676.8 1349.5,1674.3 1349.9,1671.8 1350.3,1669.4 1350.8,1666.9 1351.2,1664.4 1351.6,1662.0 1352.1,1659.5 1352.5,1657.0 1352.9,1654.5 1353.3,1652.1 1353.7,1649.6 1354.1,1647.1 1354.5,1644.7 1354.9,1642.2 1355.4,1639.7 1355.8,1637.2 1356.1,1634.8 1356.5,1632.3 1356.9,1629.8 1357.3,1627.3 1357.7,1624.9 1358.1,1622.4 1358.5,1619.9 1358.9,1617.5 1359.3,1615.0 1359.6,1612.5 1360.0,1610.0 1360.4,1607.6 1360.8,1605.1 1361.1,1602.6 1361.5,1600.1 1361.9,1597.7 1362.3,1595.2 1362.6,1592.7 1363.0,1590.3 1363.4,1587.8 1363.7,1585.3 1364.1,1582.8 1364.4,1580.4 1364.8,1577.9 1365.2,1575.4 1365.5,1572.9 1365.9,1570.5 1366.2,1568.0 1366.6,1565.5 1367.0,1563.0 1367.3,1560.6 1367.7,1558.1 1368.0,1555.6 1368.4,1553.2 1368.7,1550.7 1369.1,1548.2 1369.4,1545.7 1369.8,1543.3 1370.1,1540.8 1370.5,1538.3 1370.9,1535.8 1371.2,1533.4 1371.6,1530.9 1371.9,1528.4 1372.3,1526.0 1372.6,1523.5 1373.0,1521.0 1373.3,1518.5 1373.7,1516.1 1374.1,1513.6 1374.4,1511.1 1374.8,1508.7 1375.1,1506.2 1375.5,1503.7 1375.9,1501.3 1376.2,1498.8 1376.6,1496.3 1376.9,1493.8 1377.3,1491.4 1377.7,1488.9 1378.1,1486.4 1378.4,1484.0 1378.8,1481.5 1379.2,1479.0 1379.5,1476.6 1379.9,1474.1 1380.3,1471.6 1380.7,1469.2 1381.1,1466.7 1381.4,1464.2 1381.8,1461.8 1382.2,1459.3 1382.6,1456.8 1383.0,1454.4 1383.4,1451.9 1383.8,1449.4 1384.2,1447.0 1384.6,1444.5 1385.0,1442.0 1385.4,1439.6 1385.8,1437.1 1386.2,1434.6 1386.6,1432.2 1387.0,1429.7 1387.5,1427.3 1387.9,1424.8 1388.3,1422.3 1388.7,1419.9 1389.2,1417.4 1389.6,1415.0 1390.0,1412.5 1390.5,1410.0 1390.9,1407.6 1391.4,1405.1 1391.8,1402.7 1392.3,1400.2 1392.7,1397.7 1393.2,1395.3 1393.6,1392.8 1394.1,1390.4 1394.6,1387.9 1395.1,1385.5 1395.5,1383.0 1396.0,1380.6 1396.5,1378.1 1397.0,1375.7 1397.5,1373.2 1398.0,1370.8 1398.5,1368.3 1399.0,1365.9 1399.5,1363.4 1400.0,1361.0 1400.5,1358.5 1401.0,1356.1 1401.6,1353.6 1402.1,1351.2 1402.6,1348.7 1403.2,1346.3 1403.7,1343.9 1404.2,1341.4 1404.8,1339.0 1405.3,1336.5 1405.9,1334.1 1406.5,1331.7 1407.0,1329.2 1407.6,1326.8 1408.2,1324.4 1408.8,1321.9 1409.4,1319.5 1409.9,1317.1 1410.5,1314.6 1411.1,1312.2 1411.7,1309.8 1412.4,1307.4 1413.0,1305.0 1413.6,1302.5 1414.2,1300.1 1414.9,1297.7 1415.5,1295.3 1416.1,1292.9 1416.8,1290.4 1417.4,1288.0 1418.1,1285.6 1418.7,1283.2 1419.4,1280.8 1420.1,1278.4 1420.8,1276.0 1421.4,1273.6 1422.1,1271.2 1422.8,1268.8 1423.5,1266.4 1424.2,1264.0 1425.0,1261.6 1425.7,1259.2 1426.4,1256.8 1427.1,1254.4 1427.9,1252.0 1428.6,1249.6 1429.4,1247.3 1430.1,1244.9 1430.9,1242.5 1431.6,1240.1 1432.4,1237.7 1433.2,1235.4 1434.0,1233.0 1434.8,1230.6 1435.6,1228.3 1436.4,1225.9 1437.2,1223.5 1438.0,1221.2 1438.8,1218.8 1439.6,1216.4 1440.5,1214.1 1441.3,1211.7 1442.2,1209.4 1443.2,1207.1 1444.1,1204.8 1445.1,1202.5 1446.2,1200.3 1447.3,1198.0 1448.5,1195.8 1449.7,1193.6 1451.1,1191.5 1452.5,1189.4 1454.0,1187.3 1455.5,1185.3 1457.2,1183.3 1459.0,1181.4 1460.9,1179.5 1462.9,1177.7 1465.0,1175.9 1467.2,1174.2 1469.6,1172.6 1471.9,1171.3 1474.2,1170.3 1476.4,1169.8 1478.4,1169.9 1480.2,1170.6 1481.8,1171.8 1483.3,1173.4 1484.6,1175.4 1485.9,1177.5 1487.1,1179.8 1488.3,1182.1 1489.5,1184.4 1490.6,1186.7 1491.7,1189.0 1492.8,1191.3 1493.9,1193.6 1495.0,1195.9 1496.0,1198.2 1497.1,1200.5 1498.1,1202.8 1499.1,1205.2 1500.1,1207.5 1501.0,1209.8 1502.0,1212.2 1502.9,1214.5 1503.8,1216.9 1504.7,1219.2 1505.6,1221.6 1506.4,1224.0 1507.3,1226.3 1508.1,1228.7 1509.0,1231.1 1509.8,1233.4 1510.5,1235.8 1511.3,1238.2 1512.1,1240.6 1512.8,1243.0 1513.6,1245.3 1514.3,1247.7 1515.0,1250.1 1515.7,1252.5 1516.4,1254.9 1517.1,1257.3 1517.8,1259.7 1518.4,1262.1 1519.1,1264.6 1519.7,1267.0 1520.4,1269.4 1521.0,1271.8 1521.6,1274.2 1522.2,1276.6 1522.8,1279.1 1523.4,1281.5 1524.0,1283.9 1524.5,1286.3 1525.1,1288.8 1525.6,1291.2 1526.2,1293.6 1526.7,1296.1 1527.3,1298.5 1527.8,1300.9 1528.3,1303.4 1528.9,1305.8 1529.4,1308.3 1529.9,1310.7 1530.4,1313.2 1530.9,1315.6 1531.4,1318.1 1531.9,1320.5 1532.4,1322.9 1532.9,1325.4 1533.4,1327.8 1533.9,1330.3 1534.4,1332.7 1534.9,1335.2 1535.4,1337.7 1535.8,1340.1 1536.3,1342.6 1536.8,1345.0 1537.3,1347.5 1537.8,1349.9 1538.3,1352.4 1538.8,1354.8 1539.2,1357.3 1539.7,1359.7 1540.2,1362.2 1540.7,1364.6 1541.2,1367.1 1541.7,1369.5 1542.2,1372.0 1542.7,1374.4 1543.2,1376.9 1543.7,1379.3 1544.2,1381.8 1544.7,1384.2 1545.2,1386.7 1545.8,1389.1 1546.3,1391.6 1546.8,1394.0 1547.3,1396.5 1547.8,1398.9 1548.4,1401.4 1548.9,1403.8 1549.4,1406.3 1550.0,1408.7 1550.5,1411.2 1551.1,1413.6 1551.6,1416.0 1552.2,1418.5 1552.7,1420.9 1553.3,1423.3 1553.9,1425.8 1554.4,1428.2 1555.0,1430.7 1555.6,1433.1 1556.2,1435.5 1556.7,1437.9 1557.3,1440.4 1557.9,1442.8 1558.5,1445.2 1559.1,1447.7 1559.7,1450.1 1560.3,1452.5 1561.0,1454.9 1561.6,1457.3 1562.2,1459.8 1562.8,1462.2 1563.5,1464.6 1564.1,1467.0 1564.8,1469.4 1565.4,1471.8 1566.1,1474.2 1566.8,1476.6 1567.4,1479.0 1568.1,1481.4 1568.8,1483.8 1569.5,1486.2 1570.2,1488.6 1570.9,1491.0 1571.6,1493.4 1572.3,1495.8 1573.0,1498.2 1573.8,1500.6 1574.5,1503.0 1575.3,1505.4 1576.0,1507.7 1576.8,1510.1 1577.5,1512.5 1578.3,1514.9 1579.1,1517.2 1579.9,1519.6 1580.7,1522.0 1581.5,1524.3 1582.3,1526.7 1583.1,1529.0 1583.9,1531.4 1584.7,1533.8 1585.5,1536.1 1586.4,1538.5 1587.2,1540.8 1588.1,1543.2 1588.9,1545.5 1589.8,1547.9 1590.6,1550.2 1591.5,1552.5 1592.4,1554.9 1593.3,1557.2 1594.1,1559.6 1595.0,1561.9 1595.9,1564.2 1596.8,1566.6 1597.7,1568.9 1598.6,1571.2 1599.5,1573.5 1600.4,1575.9 1601.3,1578.2 1602.2,1580.5 1603.1,1582.9 1604.1,1585.2 1605.0,1587.5 1605.9,1589.8 1606.8,1592.1 1607.8,1594.5 1608.7,1596.8 1609.6,1599.1 1610.5,1601.4 1611.5,1603.7 1612.4,1606.1 1613.3,1608.4 1614.3,1610.7 1615.2,1613.0 1616.2,1615.3 1617.1,1617.6 1618.0,1620.0 1619.0,1622.3 1619.9,1624.6 1620.9,1626.9 1621.8,1629.2 1622.7,1631.5 1623.7,1633.8 1624.6,1636.2 1625.5,1638.5 1626.5,1640.8 1627.4,1643.1 1628.3,1645.4 1629.3,1647.7 1630.2,1650.1 1631.1,1652.4 1632.1,1654.7 1633.0,1657.0 1633.9,1659.3 1634.8,1661.7 1635.7,1664.0 1636.7,1666.3 1637.6,1668.6 1638.5,1670.9 1639.4,1673.3 1640.3,1675.6 1641.2,1677.9 1642.1,1680.2 1643.0,1682.6 1643.9,1684.9 1644.7,1687.2 1645.6,1689.5 1646.5,1691.9 1647.4,1694.2 1648.3,1696.5 1649.2,1698.9 1650.0,1701.2 1650.9,1703.5 1651.8,1705.9 1652.6,1708.2 1653.5,1710.5 1654.4,1712.9 1655.3,1715.2 1656.1,1717.5 1657.0,1719.9 1657.9,1722.2 1658.7,1724.5 1659.6,1726.9 1660.5,1729.2 1661.3,1731.5 1662.2,1733.9 1663.1,1736.2 1664.0,1738.6 1664.8,1740.9 1665.7,1743.2 1666.6,1745.6 1667.5,1747.9 1668.4,1750.2 1669.2,1752.6 1670.1,1754.9 1671.0,1757.2 1671.9,1759.5 1672.8,1761.9 1673.7,1764.2 1674.6,1766.5 1675.5,1768.9 1676.4,1771.2 1677.4,1773.5 1678.3,1775.8 1679.2,1778.2 1680.1,1780.5 1681.1,1782.8 1682.0,1785.1 1682.9,1787.5 1683.9,1789.8 1684.8,1792.1 1685.8,1794.4 1686.8,1796.7 1687.7,1799.0 1688.7,1801.4 1689.7,1803.7 1690.7,1806.0 1691.7,1808.3 1692.7,1810.6 1693.7,1812.9 1694.7,1815.2 1695.7,1817.5 1696.8,1819.8 1697.8,1822.1 1698.9,1824.4 1699.9,1826.7 1701.0,1829.0 1702.0,1831.3 1703.1,1833.5 1704.2,1835.8 1705.3,1838.1 1706.4,1840.3 1707.5,1842.6 1708.6,1844.9 1709.7,1847.1 1710.8,1849.3 1712.0,1851.6 1713.1,1853.8 1714.3,1856.0 1715.4,1858.3 1716.6,1860.5 1717.8,1862.7 1719.0,1864.9 1720.2,1867.1 1721.4,1869.3 1722.6,1871.5 1723.8,1873.6 1725.1,1875.8 1726.3,1878.0 1727.6,1880.1 1728.8,1882.3 1730.1,1884.4 1731.4,1886.5 1732.7,1888.6 1734.0,1890.7 1735.3,1892.8 1736.6,1894.9 1738.0,1897.0 1739.3,1899.1 1740.7,1901.1 1742.0,1903.2 1743.4,1905.2 1744.8,1907.2 1746.2,1909.3 1747.7,1911.3 1749.1,1913.2 1750.5,1915.2 1752.0,1917.2 1753.5,1919.1 1755.0,1921.0 1756.6,1922.9 1758.1,1924.8 1759.7,1926.7 1761.3,1928.5 1762.9,1930.3 1764.6,1932.1 1766.3,1933.9 1768.0,1935.7 1769.7,1937.4 1771.5,1939.1 1773.3,1940.8 1775.1,1942.5 1777.0,1944.1 1778.9,1945.7 1780.9,1947.3 1782.8,1948.8 1784.8,1950.3 1786.9,1951.8 1789.0,1953.3 1791.1,1954.7 1793.3,1956.1 1795.5,1957.4 1797.8,1958.7 1800.1,1960.0 1802.4,1961.3 1804.8,1962.5 1807.3,1963.6 1809.7,1964.8 1812.2,1965.8 1814.7,1966.8 1817.3,1967.7 1819.8,1968.5 1822.3,1969.3 1824.9,1969.9 1827.4,1970.5 1830.0,1970.9 1832.5,1971.3 1835.0,1971.5 1837.4,1971.5 1839.9,1971.5 1842.3,1971.3 1844.6,1970.9 1846.9,1970.5 1849.2,1969.8 1851.4,1969.1 1853.5,1968.2 1855.7,1967.2 1857.8,1966.1 1859.8,1964.9 1861.8,1963.6 1863.8,1962.2 1865.7,1960.7 1867.6,1959.2 1869.4,1957.6 1871.2,1955.9 1873.0,1954.2 1874.7,1952.4 1876.4,1950.6 1878.1,1948.8 1879.7,1946.9 1881.3,1945.0 1882.9,1943.1 1884.4,1941.2 1885.9,1939.2 1887.3,1937.3 1888.8,1935.3 1890.2,1933.2 1891.5,1931.2 1892.9,1929.1 1894.2,1927.0 1895.5,1924.9 1896.7,1922.8 1898.0,1920.6 1899.2,1918.5 1900.4,1916.3 1901.5,1914.1 1902.7,1911.9 1903.8,1909.7 1904.9,1907.4 1906.0,1905.2 1907.1,1902.9 1908.1,1900.6 1909.1,1898.3 1910.1,1896.0 1911.1,1893.7 1912.1,1891.4 1913.1,1889.1 1914.0,1886.7 1915.0,1884.4 1915.9,1882.0 1916.8,1879.7 1917.8,1877.3 1918.7,1875.0 1919.5,1872.6 1920.4,1870.2 1921.3,1867.8 1922.2,1865.4 1923.0,1863.1 1923.9,1860.7 1924.8,1858.3 1925.6,1855.9 1926.5,1853.5 1927.3,1851.1 1928.2,1848.7 1929.0,1846.4 1929.8,1844.0 1930.7,1841.6 1931.5,1839.2 1932.4,1836.9 1933.2,1834.5 1934.1,1832.1 1934.9,1829.8 1935.7,1827.4 1936.6,1825.0 1937.4,1822.7 1938.3,1820.3 1939.1,1818.0 1939.9,1815.6 1940.8,1813.2 1941.6,1810.9 1942.4,1808.5 1943.3,1806.2 1944.1,1803.8 1944.9,1801.5 1945.7,1799.1 1946.6,1796.8 1947.4,1794.4 1948.2,1792.1 1949.0,1789.7 1949.9,1787.4 1950.7,1785.0 1951.5,1782.7 1952.3,1780.4 1953.1,1778.0 1954.0,1775.7 1954.8,1773.3 1955.6,1771.0 1956.4,1768.6 1957.2,1766.3 1958.0,1763.9 1958.9,1761.6 1959.7,1759.2 1960.5,1756.9 1961.3,1754.6 1962.1,1752.2 1962.9,1749.9 1963.7,1747.5 1964.5,1745.2 1965.3,1742.8 1966.1,1740.5 1966.9,1738.1 1967.7,1735.8 1968.5,1733.4 1969.3,1731.1 1970.1,1728.7 1970.9,1726.4 1971.7,1724.0 1972.5,1721.7 1973.3,1719.3 1974.1,1716.9 1974.9,1714.6 1975.7,1712.2 1976.5,1709.9 1977.3,1707.5 1978.1,1705.1 1978.8,1702.8 1979.6,1700.4 1980.4,1698.0 1981.2,1695.7 1982.0,1693.3 1982.8,1690.9 1983.6,1688.6 1984.4,1686.2 1985.2,1683.8 1986.0,1681.4 1986.8,1679.1 1987.6,1676.7 1988.4,1674.3 1989.2,1672.0 1990.0,1669.6 1990.8,1667.2 1991.6,1664.9 1992.4,1662.5 1993.2,1660.1 1994.1,1657.8 1994.9,1655.4 1995.7,1653.0 1996.6,1650.7 1997.4,1648.3 1998.2,1646.0 1999.1,1643.6 2000.0,1641.3 2000.8,1638.9 2001.7,1636.6 2002.6,1634.2 2003.4,1631.9 2004.3,1629.6 2005.2,1627.2 2006.1,1624.9 2007.0,1622.6 2008.0,1620.2 2008.9,1617.9 2009.8,1615.6 2010.8,1613.3 2011.7,1611.0 2012.7,1608.7 2013.7,1606.4 2014.6,1604.1 2015.6,1601.8 2016.6,1599.5 2017.6,1597.2 2018.6,1594.9 2019.7,1592.6 2020.7,1590.4 2021.8,1588.1 2022.8,1585.9 2023.9,1583.6 2025.0,1581.4 2026.1,1579.1 2027.2,1576.9 2028.3,1574.6 2029.4,1572.4 2030.6,1570.2 2031.7,1568.0 2032.9,1565.8 2034.1,1563.6 2035.3,1561.4 2036.5,1559.2 2037.7,1557.0 2039.0,1554.9 2040.2,1552.7 2041.5,1550.6 2042.8,1548.4" stroke="#ff0000" stroke-width="5.6" stroke-dasharray="19.8 6.3"/>
<path d="M207.1,1522.5 L208.2,1521.4 209.4,1520.0 210.5,1518.3 211.8,1516.3 213.0,1514.1 214.3,1511.8 215.7,1509.3 217.1,1506.8 218.5,1504.2 220.0,1501.6 221.5,1498.9 223.1,1496.4 224.8,1493.9 226.5,1491.6 228.3,1489.4 230.2,1487.5 232.2,1485.8 234.2,1484.3 236.3,1483.2 238.4,1482.3 240.6,1481.6 242.9,1481.2 245.2,1481.1 247.5,1481.1 249.8,1481.3 252.1,1481.8 254.5,1482.3 256.8,1483.1 259.1,1484.0 261.3,1485.0 263.5,1486.1 265.7,1487.4 267.8,1488.7 269.8,1490.1 271.8,1491.5 273.7,1493.1 275.5,1494.7 277.2,1496.3 278.9,1498.0 280.5,1499.8 282.1,1501.6 283.6,1503.5 285.0,1505.4 286.4,1507.4 287.8,1509.4 289.1,1511.4 290.3,1513.5 291.5,1515.6 292.7,1517.8 293.8,1520.0 294.9,1522.2 296.0,1524.5 297.0,1526.8 298.0,1529.1 299.0,1531.4 299.9,1533.8 300.9,1536.1 301.8,1538.5 302.7,1540.9 303.5,1543.3 304.4,1545.7 305.2,1548.1 306.1,1550.5 306.9,1552.9 307.7,1555.4 308.6,1557.8 309.4,1560.2 310.2,1562.6 311.0,1565.0 311.8,1567.4 312.6,1569.9 313.4,1572.3 314.2,1574.7 315.0,1577.1 315.8,1579.5 316.6,1581.9 317.4,1584.3 318.2,1586.7 319.0,1589.1 319.7,1591.5 320.5,1593.9 321.3,1596.4 322.1,1598.8 322.8,1601.2 323.6,1603.6 324.3,1606.0 325.1,1608.4 325.9,1610.8 326.6,1613.2 327.4,1615.6 328.1,1618.0 328.9,1620.4 329.6,1622.8 330.4,1625.2 331.1,1627.6 331.8,1630.0 332.6,1632.4 333.3,1634.7 334.1,1637.1 334.8,1639.5 335.5,1641.9 336.3,1644.3 337.0,1646.7 337.7,1649.1 338.5,1651.5 339.2,1653.9 339.9,1656.3 340.6,1658.6 341.4,1661.0 342.1,1663.4 342.8,1665.8 343.6,1668.2 344.3,1670.6 345.0,1672.9 345.7,1675.3 346.5,1677.7 347.2,1680.1 347.9,1682.4 348.7,1684.8 349.4,1687.2 350.1,1689.6 350.9,1691.9 351.6,1694.3 352.3,1696.7 353.1,1699.1 353.8,1701.4 354.5,1703.8 355.3,1706.2 356.0,1708.5 356.8,1710.9 357.5,1713.3 358.3,1715.6 359.0,1718.0 359.8,1720.4 360.5,1722.7 361.3,1725.1 362.0,1727.4 362.8,1729.8 363.5,1732.1 364.3,1734.5 365.1,1736.9 365.8,1739.2 366.6,1741.6 367.4,1743.9 368.2,1746.3 369.0,1748.6 369.7,1751.0 370.5,1753.3 371.3,1755.7 372.1,1758.0 372.9,1760.4 373.7,1762.7 374.5,1765.0 375.3,1767.4 376.1,1769.7 377.0,1772.1 377.8,1774.4 378.6,1776.7 379.4,1779.1 380.3,1781.4 381.1,1783.7 381.9,1786.1 382.8,1788.4 383.6,1790.7 384.5,1793.1 385.3,1795.4 386.2,1797.7 387.1,1800.1 388.0,1802.4 388.8,1804.7 389.7,1807.0 390.6,1809.4 391.5,1811.7 392.4,1814.0 393.3,1816.3 394.2,1818.6 395.2,1820.9 396.1,1823.3 397.0,1825.6 398.0,1827.9 398.9,1830.2 399.9,1832.5 400.9,1834.8 401.9,1837.1 403.0,1839.4 404.0,1841.7 405.1,1844.0 406.2,1846.3 407.3,1848.6 408.4,1850.9 409.6,1853.2 410.8,1855.5 412.0,1857.7 413.3,1860.0 414.6,1862.3 416.0,1864.6 417.3,1866.8 418.7,1869.1 420.2,1871.3 421.7,1873.6 423.2,1875.8 424.8,1878.0 426.4,1880.1 428.0,1882.2 429.7,1884.2 431.4,1886.1 433.1,1887.9 434.9,1889.6 436.7,1891.1 438.5,1892.5 440.3,1893.7 442.1,1894.8 444.0,1895.6 445.9,1896.3 447.8,1896.7 449.7,1896.9 451.6,1896.8 453.5,1896.5 455.4,1896.0 457.3,1895.2 459.3,1894.3 461.2,1893.1 463.1,1891.8 465.0,1890.3 466.9,1888.7 468.7,1886.9 470.6,1885.0 472.4,1883.0 474.2,1880.8 475.9,1878.6 477.7,1876.4 479.4,1874.0 481.0,1871.6 482.6,1869.2 484.2,1866.8 485.7,1864.4 487.1,1861.9 488.5,1859.5 489.9,1857.1 491.2,1854.8 492.4,1852.5 493.6,1850.2 494.8,1847.9 495.9,1845.7 497.0,1843.4 498.0,1841.2 499.1,1839.0 500.1,1836.7 501.1,1834.5 502.1,1832.3 503.1,1830.1 504.1,1827.9 505.1,1825.6 506.0,1823.4 507.0,1821.2 508.0,1818.9 508.9,1816.7 509.9,1814.5 510.9,1812.2 511.8,1810.0 512.8,1807.7 513.7,1805.4 514.7,1803.2 515.6,1800.9 516.5,1798.6 517.5,1796.4 518.4,1794.1 519.3,1791.8 520.2,1789.5 521.1,1787.3 522.1,1785.0 523.0,1782.7 523.9,1780.4 524.8,1778.1 525.7,1775.8 526.6,1773.5 527.5,1771.2 528.4,1768.9 529.3,1766.6 530.2,1764.3 531.0,1762.0 531.9,1759.7 532.8,1757.4 533.7,1755.1 534.6,1752.8 535.5,1750.4 536.3,1748.1 537.2,1745.8 538.1,1743.5 538.9,1741.1 539.8,1738.8 540.7,1736.5 541.6,1734.2 542.4,1731.8 543.3,1729.5 544.2,1727.2 545.0,1724.8 545.9,1722.5 546.7,1720.1 547.6,1717.8 548.5,1715.5 549.3,1713.1 550.2,1710.8 551.0,1708.4 551.9,1706.1 552.8,1703.7 553.6,1701.4 554.5,1699.0 555.4,1696.7 556.2,1694.3 557.1,1692.0 557.9,1689.6 558.8,1687.3 559.7,1684.9 560.5,1682.6 561.4,1680.2 562.3,1677.9 563.1,1675.5 564.0,1673.1 564.9,1670.8 565.7,1668.4 566.6,1666.1 567.5,1663.7 568.4,1661.4 569.2,1659.0 570.1,1656.7 571.0,1654.3 571.9,1651.9 572.8,1649.6 573.7,1647.2 574.6,1644.9 575.4,1642.5 576.3,1640.2 577.2,1637.8 578.1,1635.4 579.0,1633.1 580.0,1630.7 580.9,1628.4 581.8,1626.0 582.7,1623.7 583.6,1621.3 584.5,1619.0 585.5,1616.7 586.4,1614.3 587.4,1612.0 588.3,1609.6 589.3,1607.3 590.2,1605.0 591.2,1602.7 592.2,1600.3 593.1,1598.0 594.1,1595.7 595.1,1593.4 596.1,1591.1 597.1,1588.8 598.2,1586.5 599.2,1584.2 600.2,1581.9 601.3,1579.7 602.3,1577.4 603.4,1575.1 604.5,1572.9 605.6,1570.6 606.6,1568.4 607.8,1566.1 608.9,1563.9 610.0,1561.7 611.1,1559.5 612.3,1557.3 613.5,1555.1 614.6,1552.9 615.8,1550.7 617.0,1548.5 618.2,1546.4 619.5,1544.2 620.7,1542.0 622.0,1539.9 623.2,1537.8 624.5,1535.7 625.8,1533.6 627.1,1531.5 628.5,1529.4 629.8,1527.3 631.2,1525.2 632.5,1523.2 633.9,1521.1 635.3,1519.1 636.8,1517.1 638.2,1515.1 639.7,1513.1 641.1,1511.1 642.6,1509.1 644.1,1507.2 645.7,1505.2 647.2,1503.3 648.8,1501.4 650.4,1499.5 652.0,1497.6 653.6,1495.7 655.3,1493.9 656.9,1492.0 658.6,1490.2 660.3,1488.4 662.0,1486.6 663.7,1484.8 665.5,1483.0 667.2,1481.2 669.0,1479.4 670.8,1477.6 672.5,1475.9 674.3,1474.1 676.2,1472.4 678.0,1470.7 679.8,1469.0 681.6,1467.2 683.5,1465.5 685.3,1463.8 687.2,1462.1 689.1,1460.4 690.9,1458.8 692.8,1457.1 694.7,1455.4 696.6,1453.7 698.5,1452.0 700.4,1450.4 702.3,1448.7 704.1,1447.0 706.0,1445.4 707.9,1443.7 709.8,1442.0 711.7,1440.4 713.6,1438.7 715.5,1437.0 717.4,1435.4 719.2,1433.7 721.1,1432.0 723.0,1430.3 724.8,1428.7 726.7,1427.0 728.5,1425.3 730.4,1423.6 732.2,1421.9 734.0,1420.2 735.8,1418.5 737.6,1416.8 739.4,1415.1 741.2,1413.3 743.0,1411.6 744.7,1409.9 746.4,1408.1 748.2,1406.4 749.9,1404.6 751.6,1402.8 753.3,1401.0 754.9,1399.3 756.6,1397.5 758.3,1395.7 760.0,1393.9 761.7,1392.1 763.3,1390.3 765.0,1388.5 766.7,1386.8 768.4,1385.0 770.1,1383.2 771.9,1381.5 773.6,1379.7 775.4,1378.0 777.2,1376.3 779.0,1374.6 780.9,1372.9 782.7,1371.2 784.6,1369.5 786.6,1367.9 788.5,1366.3 790.6,1364.7 792.6,1363.1 794.7,1361.6 796.8,1360.1 799.0,1358.6 801.1,1357.2 803.4,1355.8 805.6,1354.5 807.9,1353.2 810.1,1352.0 812.5,1350.9 814.8,1349.8 817.1,1348.8 819.5,1347.9 821.9,1347.1 824.2,1346.3 826.6,1345.7 829.0,1345.1 831.4,1344.7 833.8,1344.4 836.2,1344.2 838.6,1344.1 841.0,1344.1 843.4,1344.3 845.8,1344.6 848.2,1345.0 850.6,1345.5 852.9,1346.1 855.3,1346.8 857.6,1347.6 859.9,1348.5 862.2,1349.5 864.5,1350.6 866.7,1351.7 868.9,1353.0 871.1,1354.3 873.2,1355.7 875.4,1357.1 877.5,1358.6 879.5,1360.1 881.5,1361.7 883.5,1363.4 885.4,1365.1 887.3,1366.8 889.2,1368.6 891.0,1370.4 892.7,1372.2 894.4,1374.0 896.1,1375.9 897.8,1377.8 899.4,1379.7 901.0,1381.7 902.5,1383.6 904.1,1385.6 905.6,1387.6 907.1,1389.6 908.5,1391.6 910.0,1393.7 911.4,1395.7 912.8,1397.8 914.2,1399.8 915.6,1401.9 916.9,1404.0 918.3,1406.1 919.6,1408.2 921.0,1410.3 922.3,1412.4 923.6,1414.5 924.9,1416.6 926.2,1418.7 927.5,1420.9 928.7,1423.0 930.0,1425.1 931.3,1427.3 932.6,1429.4 933.8,1431.6 935.1,1433.7 936.3,1435.8 937.6,1438.0 938.9,1440.1 940.1,1442.3 941.4,1444.4 942.7,1446.6 944.0,1448.7 945.2,1450.8 946.5,1453.0 947.8,1455.1 949.1,1457.2 950.5,1459.3 951.8,1461.4 953.1,1463.5 954.5,1465.7 955.9,1467.7 957.2,1469.8 958.6,1471.9 960.0,1474.0 961.5,1476.0 962.9,1478.1 964.4,1480.1 965.9,1482.2 967.4,1484.2 968.9,1486.2 970.4,1488.2 972.0,1490.2 973.6,1492.2 975.2,1494.1 976.9,1496.1 978.5,1498.0 980.2,1499.9 981.9,1501.8 983.7,1503.6 985.5,1505.4 987.2,1507.2 989.1,1509.0 990.9,1510.7 992.8,1512.4 994.7,1514.0 996.6,1515.6 998.5,1517.2 1000.5,1518.7 1002.5,1520.2 1004.5,1521.6 1006.6,1522.9 1008.7,1524.2 1010.8,1525.4 1012.9,1526.6 1015.1,1527.7 1017.2,1528.8 1019.5,1529.7 1021.7,1530.6 1024.0,1531.5 1026.2,1532.2 1028.6,1532.9 1030.9,1533.5 1033.3,1534.0 1035.7,1534.4 1038.1,1534.8 1040.6,1535.0 1043.0,1535.2 1045.5,1535.3 1048.1,1535.3 1050.6,1535.2 1053.2,1535.1 1055.8,1535.0 1058.3,1534.8 1060.9,1534.6 1063.5,1534.4 1066.2,1534.2 1068.8,1533.9 1071.4,1533.7 1074.0,1533.5 1076.6,1533.3 1079.2,1533.2 1081.8,1533.1 1084.4,1533.1 1086.9,1533.1 1089.5,1533.2 1092.0,1533.3 1094.5,1533.5 1097.0,1533.8 1099.5,1534.2 1102.0,1534.6 1104.4,1535.0 1106.8,1535.5 1109.2,1536.1 1111.6,1536.7 1114.0,1537.4 1116.3,1538.2 1118.6,1539.0 1120.9,1539.8 1123.2,1540.8 1125.4,1541.7 1127.6,1542.7 1129.8,1543.8 1132.0,1544.9 1134.2,1546.1 1136.3,1547.3 1138.4,1548.5 1140.4,1549.8 1142.5,1551.1 1144.5,1552.5 1146.5,1553.9 1148.5,1555.4 1150.4,1556.9 1152.3,1558.4 1154.2,1560.0 1156.1,1561.6 1157.9,1563.3 1159.7,1564.9 1161.5,1566.7 1163.3,1568.4 1165.1,1570.2 1166.8,1571.9 1168.5,1573.8 1170.2,1575.6 1171.9,1577.5 1173.6,1579.4 1175.3,1581.3 1176.9,1583.2 1178.5,1585.2 1180.1,1587.1 1181.7,1589.1 1183.3,1591.1 1184.8,1593.1 1186.4,1595.2 1187.9,1597.2 1189.4,1599.3 1191.0,1601.3 1192.5,1603.4 1194.0,1605.5 1195.4,1607.5 1196.9,1609.6 1198.4,1611.7 1199.8,1613.8 1201.3,1615.9 1202.7,1618.0 1204.2,1620.1 1205.6,1622.1 1207.0,1624.2 1208.4,1626.3 1209.8,1628.4 1211.3,1630.4 1212.7,1632.5 1214.1,1634.5 1215.5,1636.5 1216.9,1638.5 1218.3,1640.5 1219.7,1642.5 1221.2,1644.5 1222.7,1646.5 1224.2,1648.4 1225.7,1650.3 1227.2,1652.2 1228.9,1654.1 1230.5,1656.0 1232.2,1657.8 1234.0,1659.7 1235.8,1661.5 1237.6,1663.2 1239.6,1665.0 1241.6,1666.7 1243.6,1668.4 1245.8,1670.0 1247.9,1671.5 1250.2,1672.9 1252.4,1674.1 1254.7,1675.2 1257.0,1676.0 1259.2,1676.7 1261.5,1677.1 1263.8,1677.2 1266.1,1677.0 1268.4,1676.6 1270.6,1675.9 1272.8,1674.9 1275.0,1673.8 1277.2,1672.5 1279.3,1671.0 1281.3,1669.4 1283.3,1667.7 1285.3,1665.8 1287.1,1663.9 1289.0,1662.0 1290.7,1660.0 1292.4,1658.0 1294.0,1656.0 1295.5,1654.0 1297.0,1651.9 1298.5,1649.8 1299.8,1647.7 1301.2,1645.5 1302.4,1643.4 1303.7,1641.2 1304.9,1639.0 1306.0,1636.8 1307.1,1634.6 1308.2,1632.3 1309.3,1630.1 1310.3,1627.8 1311.3,1625.5 1312.3,1623.2 1313.3,1620.9 1314.2,1618.6 1315.2,1616.3 1316.1,1614.0 1317.0,1611.7 1317.9,1609.4 1318.8,1607.1 1319.7,1604.7 1320.6,1602.4 1321.4,1600.1 1322.3,1597.7 1323.1,1595.4 1324.0,1593.0 1324.8,1590.7 1325.6,1588.3 1326.4,1585.9 1327.2,1583.6 1328.0,1581.2 1328.8,1578.8 1329.6,1576.4 1330.3,1574.0 1331.1,1571.7 1331.8,1569.3 1332.6,1566.9 1333.3,1564.5 1334.0,1562.1 1334.8,1559.7 1335.5,1557.3 1336.2,1554.9 1336.9,1552.4 1337.6,1550.0 1338.3,1547.6 1338.9,1545.2 1339.6,1542.8 1340.3,1540.4 1340.9,1537.9 1341.6,1535.5 1342.3,1533.1 1342.9,1530.7 1343.5,1528.2 1344.2,1525.8 1344.8,1523.4 1345.5,1520.9 1346.1,1518.5 1346.7,1516.1 1347.3,1513.6 1347.9,1511.2 1348.6,1508.7 1349.2,1506.3 1349.8,1503.9 1350.4,1501.4 1351.0,1499.0 1351.6,1496.5 1352.2,1494.1 1352.8,1491.7 1353.4,1489.2 1354.0,1486.8 1354.5,1484.3 1355.1,1481.9 1355.7,1479.5 1356.3,1477.0 1356.9,1474.6 1357.5,1472.2 1358.1,1469.7 1358.6,1467.3 1359.2,1464.9 1359.8,1462.4 1360.4,1460.0 1361.0,1457.6 1361.6,1455.1 1362.2,1452.7 1362.8,1450.3 1363.3,1447.9 1363.9,1445.5 1364.5,1443.0 1365.1,1440.6 1365.7,1438.2 1366.3,1435.8 1366.9,1433.4 1367.5,1431.0 1368.1,1428.6 1368.7,1426.2 1369.3,1423.8 1369.9,1421.4 1370.5,1419.0 1371.2,1416.6 1371.8,1414.2 1372.4,1411.8 1373.0,1409.4 1373.6,1407.0 1374.2,1404.6 1374.8,1402.2 1375.5,1399.8 1376.1,1397.4 1376.7,1395.0 1377.3,1392.6 1378.0,1390.2 1378.6,1387.9 1379.2,1385.5 1379.8,1383.1 1380.5,1380.7 1381.1,1378.3 1381.7,1375.9 1382.4,1373.5 1383.0,1371.1 1383.6,1368.7 1384.3,1366.4 1384.9,1364.0 1385.5,1361.6 1386.2,1359.2 1386.8,1356.8 1387.5,1354.4 1388.1,1352.0 1388.7,1349.6 1389.4,1347.2 1390.0,1344.8 1390.7,1342.4 1391.3,1340.0 1392.0,1337.6 1392.6,1335.2 1393.3,1332.8 1393.9,1330.4 1394.6,1328.0 1395.2,1325.6 1395.9,1323.2 1396.5,1320.8 1397.2,1318.4 1397.8,1315.9 1398.5,1313.5 1399.1,1311.1 1399.8,1308.7 1400.4,1306.2 1401.1,1303.8 1401.8,1301.4 1402.4,1299.0 1403.1,1296.5 1403.7,1294.1 1404.4,1291.6 1405.1,1289.2 1405.7,1286.7 1406.4,1284.3 1407.0,1281.8 1407.7,1279.4 1408.4,1276.9 1409.0,1274.4 1409.7,1272.0 1410.3,1269.5 1411.0,1267.0 1411.7,1264.6 1412.3,1262.1 1413.0,1259.6 1413.7,1257.1 1414.3,1254.6 1415.0,1252.1 1415.7,1249.6 1416.3,1247.1 1417.0,1244.6 1417.7,1242.1 1418.4,1239.6 1419.1,1237.2 1419.9,1234.7 1420.6,1232.2 1421.4,1229.8 1422.2,1227.4 1423.0,1225.0 1423.8,1222.6 1424.7,1220.2 1425.6,1217.9 1426.5,1215.6 1427.5,1213.3 1428.5,1211.0 1429.5,1208.8 1430.6,1206.6 1431.7,1204.4 1432.9,1202.3 1434.1,1200.2 1435.3,1198.1 1436.6,1196.1 1437.9,1194.1 1439.3,1192.2 1440.8,1190.3 1442.3,1188.4 1443.9,1186.6 1445.5,1184.9 1447.2,1183.2 1448.9,1181.6 1450.7,1180.0 1452.6,1178.5 1454.6,1177.0 1456.6,1175.7 1458.7,1174.5 1460.8,1173.5 1463.0,1172.7 1465.2,1172.3 1467.4,1172.2 1469.6,1172.5 1471.9,1173.1 1474.1,1173.9 1476.2,1175.1 1478.2,1176.4 1480.2,1178.0 1482.0,1179.7 1483.7,1181.6 1485.2,1183.5 1486.7,1185.6 1488.1,1187.8 1489.3,1190.0 1490.5,1192.3 1491.7,1194.6 1492.8,1197.0 1493.9,1199.4 1495.0,1201.8 1496.0,1204.2 1497.0,1206.6 1498.0,1209.0 1499.0,1211.4 1500.0,1213.8 1501.0,1216.1 1501.9,1218.5 1502.8,1220.9 1503.7,1223.3 1504.6,1225.7 1505.5,1228.1 1506.4,1230.5 1507.2,1232.9 1508.1,1235.3 1508.9,1237.7 1509.7,1240.1 1510.5,1242.5 1511.3,1244.9 1512.1,1247.3 1512.8,1249.7 1513.6,1252.1 1514.3,1254.5 1515.1,1256.9 1515.8,1259.3 1516.5,1261.7 1517.2,1264.1 1517.9,1266.5 1518.6,1268.9 1519.2,1271.3 1519.9,1273.7 1520.6,1276.1 1521.2,1278.5 1521.9,1280.9 1522.5,1283.3 1523.1,1285.7 1523.8,1288.1 1524.4,1290.6 1525.0,1293.0 1525.6,1295.4 1526.2,1297.8 1526.8,1300.2 1527.4,1302.6 1528.0,1305.0 1528.6,1307.4 1529.2,1309.8 1529.7,1312.3 1530.3,1314.7 1530.9,1317.1 1531.5,1319.5 1532.0,1321.9 1532.6,1324.3 1533.2,1326.8 1533.7,1329.2 1534.3,1331.6 1534.9,1334.0 1535.5,1336.4 1536.0,1338.9 1536.6,1341.3 1537.1,1343.7 1537.7,1346.1 1538.3,1348.5 1538.8,1351.0 1539.4,1353.4 1539.9,1355.8 1540.5,1358.2 1541.0,1360.7 1541.6,1363.1 1542.2,1365.5 1542.7,1368.0 1543.3,1370.4 1543.8,1372.8 1544.4,1375.2 1544.9,1377.7 1545.5,1380.1 1546.0,1382.5 1546.5,1385.0 1547.1,1387.4 1547.6,1389.8 1548.2,1392.3 1548.7,1394.7 1549.3,1397.1 1549.8,1399.6 1550.3,1402.0 1550.9,1404.4 1551.4,1406.9 1551.9,1409.3 1552.5,1411.7 1553.0,1414.2 1553.6,1416.6 1554.1,1419.0 1554.6,1421.5 1555.2,1423.9 1555.7,1426.4 1556.2,1428.8 1556.8,1431.2 1557.3,1433.7 1557.8,1436.1 1558.3,1438.5 1558.9,1441.0 1559.4,1443.4 1559.9,1445.9 1560.5,1448.3 1561.0,1450.7 1561.5,1453.2 1562.0,1455.6 1562.6,1458.1 1563.1,1460.5 1563.6,1463.0 1564.1,1465.4 1564.7,1467.8 1565.2,1470.3 1565.7,1472.7 1566.2,1475.2 1566.8,1477.6 1567.3,1480.1 1567.8,1482.5 1568.3,1485.0 1568.8,1487.4 1569.4,1489.8 1569.9,1492.3 1570.4,1494.7 1570.9,1497.2 1571.5,1499.6 1572.0,1502.1 1572.5,1504.5 1573.0,1507.0 1573.5,1509.4 1574.1,1511.9 1574.6,1514.3 1575.1,1516.7 1575.6,1519.2 1576.1,1521.6 1576.7,1524.1 1577.2,1526.5 1577.7,1529.0 1578.2,1531.4 1578.7,1533.9 1579.3,1536.3 1579.8,1538.8 1580.3,1541.2 1580.8,1543.7 1581.3,1546.1 1581.9,1548.6 1582.4,1551.0 1582.9,1553.5 1583.4,1555.9 1584.0,1558.3 1584.5,1560.8 1585.0,1563.2 1585.5,1565.7 1586.0,1568.1 1586.6,1570.6 1587.1,1573.0 1587.6,1575.5 1588.1,1577.9 1588.7,1580.4 1589.2,1582.8 1589.7,1585.3 1590.3,1587.7 1590.8,1590.2 1591.3,1592.6 1591.8,1595.0 1592.4,1597.5 1592.9,1599.9 1593.4,1602.4 1593.9,1604.8 1594.5,1607.3 1595.0,1609.7 1595.5,1612.2 1596.1,1614.6 1596.6,1617.1 1597.1,1619.5 1597.7,1621.9 1598.2,1624.4 1598.7,1626.8 1599.3,1629.3 1599.8,1631.7 1600.4,1634.2 1600.9,1636.6 1601.4,1639.0 1602.0,1641.5 1602.5,1643.9 1603.1,1646.4 1603.6,1648.8 1604.1,1651.3 1604.7,1653.7 1605.2,1656.1 1605.8,1658.6 1606.3,1661.0 1606.9,1663.5 1607.4,1665.9 1608.0,1668.3 1608.5,1670.8 1609.1,1673.2 1609.6,1675.7 1610.2,1678.1 1610.7,1680.5 1611.3,1683.0 1611.8,1685.4 1612.4,1687.8 1613.0,1690.3 1613.5,1692.7 1614.1,1695.2 1614.6,1697.6 1615.2,1700.0 1615.8,1702.5 1616.3,1704.9 1616.9,1707.3 1617.5,1709.8 1618.0,1712.2 1618.6,1714.6 1619.2,1717.0 1619.7,1719.5 1620.3,1721.9 1620.9,1724.3 1621.5,1726.8 1622.0,1729.2 1622.6,1731.6 1623.2,1734.1 1623.8,1736.5 1624.4,1738.9 1625.0,1741.3 1625.5,1743.8 1626.1,1746.2 1626.7,1748.6 1627.3,1751.0 1627.9,1753.5 1628.5,1755.9 1629.1,1758.3 1629.7,1760.7 1630.3,1763.1 1630.9,1765.6 1631.5,1768.0 1632.2,1770.4 1632.8,1772.8 1633.4,1775.2 1634.1,1777.6 1634.7,1780.0 1635.4,1782.4 1636.0,1784.8 1636.7,1787.2 1637.4,1789.6 1638.1,1792.0 1638.8,1794.4 1639.5,1796.8 1640.3,1799.2 1641.0,1801.5 1641.7,1803.9 1642.5,1806.3 1643.3,1808.6 1644.1,1811.0 1644.9,1813.3 1645.7,1815.7 1646.6,1818.0 1647.4,1820.4 1648.3,1822.7 1649.2,1825.0 1650.1,1827.3 1651.1,1829.7 1652.0,1832.0 1653.0,1834.3 1654.0,1836.6 1655.0,1838.9 1656.0,1841.1 1657.1,1843.4 1658.1,1845.7 1659.2,1848.0 1660.4,1850.2 1661.5,1852.5 1662.7,1854.7 1663.9,1856.9 1665.1,1859.2 1666.3,1861.4 1667.6,1863.6 1668.9,1865.8 1670.2,1867.9 1671.6,1870.1 1672.9,1872.3 1674.3,1874.4 1675.8,1876.5 1677.2,1878.6 1678.7,1880.6 1680.2,1882.6 1681.8,1884.6 1683.4,1886.6 1685.0,1888.5 1686.6,1890.4 1688.3,1892.3 1690.0,1894.1 1691.7,1895.9 1693.4,1897.7 1695.2,1899.4 1697.0,1901.0 1698.9,1902.6 1700.8,1904.2 1702.7,1905.7 1704.6,1907.1 1706.6,1908.5 1708.6,1909.9 1710.7,1911.2 1712.8,1912.4 1714.9,1913.6 1717.0,1914.7 1719.2,1915.7 1721.5,1916.7 1723.7,1917.6 1726.0,1918.4 1728.3,1919.2 1730.7,1919.9 1733.1,1920.5 1735.5,1921.1 1738.0,1921.6 1740.5,1922.1 1742.9,1922.5 1745.5,1922.9 1748.0,1923.2 1750.5,1923.6 1753.1,1923.9 1755.7,1924.2 1758.2,1924.5 1760.8,1924.8 1763.4,1925.1 1766.0,1925.4 1768.5,1925.7 1771.1,1926.0 1773.7,1926.4 1776.2,1926.8 1778.8,1927.2 1781.3,1927.6 1783.8,1928.1 1786.3,1928.6 1788.8,1929.1 1791.2,1929.7 1793.7,1930.2 1796.2,1930.7 1798.6,1931.2 1801.1,1931.7 1803.5,1932.2 1805.9,1932.7 1808.4,1933.1 1810.8,1933.5 1813.2,1933.9 1815.6,1934.2 1818.1,1934.4 1820.5,1934.6 1822.9,1934.7 1825.3,1934.8 1827.8,1934.8 1830.2,1934.7 1832.7,1934.5 1835.1,1934.2 1837.6,1933.9 1840.0,1933.4 1842.4,1932.9 1844.9,1932.3 1847.3,1931.6 1849.7,1930.8 1852.0,1930.0 1854.4,1929.1 1856.7,1928.1 1859.0,1927.0 1861.2,1925.9 1863.4,1924.7 1865.6,1923.4 1867.8,1922.1 1869.8,1920.7 1871.9,1919.2 1873.9,1917.7 1875.8,1916.1 1877.6,1914.4 1879.4,1912.7 1881.2,1910.9 1882.9,1909.1 1884.5,1907.2 1886.1,1905.3 1887.6,1903.3 1889.1,1901.3 1890.6,1899.3 1892.0,1897.2 1893.4,1895.1 1894.7,1893.0 1896.1,1890.9 1897.4,1888.7 1898.6,1886.5 1899.9,1884.3 1901.2,1882.1 1902.4,1879.9 1903.6,1877.7 1904.8,1875.5 1906.1,1873.3 1907.3,1871.1 1908.5,1868.9 1909.6,1866.7 1910.8,1864.4 1912.0,1862.2 1913.1,1860.0 1914.3,1857.7 1915.4,1855.5 1916.6,1853.3 1917.7,1851.0 1918.8,1848.8 1919.9,1846.5 1921.0,1844.3 1922.1,1842.0 1923.2,1839.8 1924.3,1837.5 1925.3,1835.2 1926.4,1833.0 1927.4,1830.7 1928.5,1828.4 1929.5,1826.2 1930.6,1823.9 1931.6,1821.6 1932.6,1819.3 1933.6,1817.0 1934.6,1814.7 1935.6,1812.5 1936.6,1810.2 1937.6,1807.9 1938.6,1805.6 1939.5,1803.3 1940.5,1801.0 1941.4,1798.7 1942.4,1796.4 1943.3,1794.0 1944.3,1791.7 1945.2,1789.4 1946.1,1787.1 1947.0,1784.8 1947.9,1782.5 1948.8,1780.1 1949.7,1777.8 1950.6,1775.5 1951.5,1773.2 1952.4,1770.8 1953.3,1768.5 1954.2,1766.2 1955.0,1763.8 1955.9,1761.5 1956.7,1759.1 1957.6,1756.8 1958.4,1754.5 1959.3,1752.1 1960.1,1749.8 1960.9,1747.4 1961.8,1745.1 1962.6,1742.7 1963.4,1740.3 1964.2,1738.0 1965.0,1735.6 1965.8,1733.3 1966.6,1730.9 1967.4,1728.5 1968.2,1726.2 1969.0,1723.8 1969.8,1721.4 1970.6,1719.1 1971.3,1716.7 1972.1,1714.3 1972.9,1711.9 1973.6,1709.5 1974.4,1707.2 1975.2,1704.8 1975.9,1702.4 1976.7,1700.0 1977.4,1697.6 1978.2,1695.2 1978.9,1692.9 1979.6,1690.5 1980.4,1688.1 1981.1,1685.7 1981.8,1683.3 1982.6,1680.9 1983.3,1678.5 1984.0,1676.1 1984.8,1673.7 1985.5,1671.3 1986.2,1668.9 1986.9,1666.6 1987.7,1664.2 1988.4,1661.8 1989.1,1659.4 1989.9,1657.0 1990.6,1654.6 1991.3,1652.2 1992.0,1649.8 1992.8,1647.4 1993.5,1645.0 1994.3,1642.6 1995.0,1640.2 1995.8,1637.9 1996.5,1635.5 1997.3,1633.1 1998.0,1630.7 1998.8,1628.3 1999.5,1625.9 2000.3,1623.6 2001.1,1621.2 2001.8,1618.8 2002.6,1616.4 2003.4,1614.1 2004.2,1611.7 2005.0,1609.3 2005.8,1607.0 2006.6,1604.6 2007.4,1602.2 2008.3,1599.9 2009.1,1597.5 2009.9,1595.2 2010.8,1592.8 2011.6,1590.5 2012.5,1588.1 2013.4,1585.8 2014.2,1583.5 2015.1,1581.1 2016.0,1578.8 2016.9,1576.5 2017.9,1574.2 2018.8,1571.8 2019.7,1569.5 2020.7,1567.2 2021.6,1564.9 2022.6,1562.6 2023.5,1560.3 2024.5,1558.0 2025.5,1555.7 2026.5,1553.4 2027.6,1551.2 2028.6,1548.9 2029.6,1546.6 2030.7,1544.4 2031.8,1542.1 2032.9,1539.8 2034.0,1537.6 2035.1,1535.4 2036.2,1533.1 2037.3,1530.9 2038.5,1528.7 2039.7,1526.4 2040.8,1524.2 2042.0,1522.0" stroke="#0000ff" stroke-width="5.6"/>
</g>
<line x1="207.6" y1="1569.90" x2="2042.3" y2="1569.90" stroke="#000" stroke-width="4.4"/>
<path d="M213.60,2062.20v-18M213.60,1077.80v18M396.98,2062.20v-18M396.98,1077.80v18M580.35,2062.20v-18M580.35,1077.80v18M763.73,2062.20v-18M763.73,1077.80v18M947.10,2062.20v-18M947.10,1077.80v18M1130.47,2062.20v-18M1130.47,1077.80v18M1313.85,2062.20v-18M1313.85,1077.80v18M1497.23,2062.20v-18M1497.23,1077.80v18M1680.60,2062.20v-18M1680.60,1077.80v18M1863.97,2062.20v-18M1863.97,1077.80v18M207.60,1077.60h18M2042.30,1077.60h-18M207.60,1323.75h18M2042.30,1323.75h-18M207.60,1569.90h18M2042.30,1569.90h-18M207.60,1816.05h18M2042.30,1816.05h-18M207.60,2062.20h18M2042.30,2062.20h-18" stroke="#000" stroke-width="4.4" fill="none"/>
<rect x="207.60" y="1077.80" width="1834.70" height="984.40" fill="none" stroke="#000" stroke-width="4.4"/>
<text class="tk" x="199.5" y="1096.10" text-anchor="end">1</text>
<text class="tk" x="199.5" y="1342.25" text-anchor="end">0.5</text>
<text class="tk" x="199.5" y="1588.40" text-anchor="end">0</text>
<text class="tk" x="199.5" y="1834.55" text-anchor="end">-0.5</text>
<text class="tk" x="199.5" y="2080.70" text-anchor="end">-1</text>
<text class="tk" x="213.60" y="2117" text-anchor="middle">1</text>
<text class="tk" x="396.98" y="2117" text-anchor="middle">1.1</text>
<text class="tk" x="580.35" y="2117" text-anchor="middle">1.2</text>
<text class="tk" x="763.73" y="2117" text-anchor="middle">1.3</text>
<text class="tk" x="947.10" y="2117" text-anchor="middle">1.4</text>
<text class="tk" x="1130.47" y="2117" text-anchor="middle">1.5</text>
<text class="tk" x="1313.85" y="2117" text-anchor="middle">1.6</text>
<text class="tk" x="1497.23" y="2117" text-anchor="middle">1.7</text>
<text class="tk" x="1680.60" y="2117" text-anchor="middle">1.8</text>
<text class="tk" x="1863.97" y="2117" text-anchor="middle">1.9</text>
<text class="rg" x="260.7" y="160.5" font-size="76">(a)</text>
<text class="rg" x="260.7" y="1177.5" font-size="76">(b)</text>
<line x1="270.5" y1="676.2" x2="351" y2="676.2" stroke="#ff0000" stroke-width="5.6"/>
<text class="lg" x="359.3" y="682.2" font-size="52">F<tspan font-size="42" dy="27">vert,z,exp</tspan></text>
<line x1="270.5" y1="765.6" x2="351" y2="765.6" stroke="#0000ff" stroke-width="5.6"/>
<text class="lg" x="359.3" y="771.6" font-size="52">F<tspan font-size="42" dy="27">horiz,y,exp</tspan></text>
<line x1="270.5" y1="855.4" x2="351" y2="855.4" stroke="#ff0000" stroke-width="5.6" stroke-dasharray="19.5 7 6.5 7"/>
<text class="lg" x="359.3" y="861.4" font-size="52">F<tspan font-size="42" dy="27">vert,z,cal</tspan></text>
<line x1="270.5" y1="945.2" x2="351" y2="945.2" stroke="#0000ff" stroke-width="5.6" stroke-dasharray="19.5 7 6.5 7"/>
<text class="lg" x="359.3" y="951.2" font-size="52">F<tspan font-size="42" dy="27">horiz,y,cal</tspan></text>
<line x1="1684.5" y1="1137.0" x2="1763" y2="1137.0" stroke="#ff0000" stroke-width="5.6" stroke-dasharray="19.8 6.3"/>
<text class="lg" x="1770.1" y="1143.3" font-size="52">M<tspan font-size="42" dy="26">x,pitch,cal</tspan></text>
<line x1="1684.5" y1="1221.3" x2="1763" y2="1221.3" stroke="#0000ff" stroke-width="5.6"/>
<text class="lg" x="1770.1" y="1227.6" font-size="52">M<tspan font-size="42" dy="26">x,pitch,exp</tspan></text>
<text class="rg" x="908.16" y="2177.3" font-size="63" textLength="430.85" lengthAdjust="spacingAndGlyphs">Normalized time</text>
<text class="rg" transform="translate(109.30,673.88) rotate(-90)" font-size="63.0" textLength="36.23" lengthAdjust="spacingAndGlyphs">F</text>
<text class="rg" transform="translate(109.30,621.00) rotate(-90)" font-size="63.0" textLength="17.30" lengthAdjust="spacingAndGlyphs">/</text>
<text class="rg" transform="translate(109.30,588.66) rotate(-90)" font-size="63.0" textLength="46.59" lengthAdjust="spacingAndGlyphs">m</text>
<text class="rg" transform="translate(139.30,535.50) rotate(-90)" font-size="48.0" textLength="94.18" lengthAdjust="spacingAndGlyphs">body</text>
<text class="rg" transform="translate(109.30,439.29) rotate(-90)" font-size="63.0" textLength="31.28" lengthAdjust="spacingAndGlyphs">g</text>
<text class="rg" transform="translate(71.00,1910.30) rotate(-90)" font-size="63.0" textLength="58.63" lengthAdjust="spacingAndGlyphs">M</text>
<text class="rg" transform="translate(103.80,1851.94) rotate(-90)" font-size="48.0" textLength="138.71" lengthAdjust="spacingAndGlyphs">x,pitch</text>
<text class="rg" transform="translate(71.00,1699.30) rotate(-90)" font-size="63.0" textLength="18.00" lengthAdjust="spacingAndGlyphs">/</text>
<text class="rg" transform="translate(71.00,1667.06) rotate(-90)" font-size="63.0" textLength="46.80" lengthAdjust="spacingAndGlyphs">m</text>
<text class="rg" transform="translate(103.80,1614.20) rotate(-90)" font-size="48.0" textLength="95.69" lengthAdjust="spacingAndGlyphs">body</text>
<text class="rg" transform="translate(71.00,1518.24) rotate(-90)" font-size="63.0" textLength="31.85" lengthAdjust="spacingAndGlyphs">g</text>
<text class="rg" transform="translate(71.00,1486.25) rotate(-90)" font-size="63.0" textLength="42.74" lengthAdjust="spacingAndGlyphs">R</text>
<text class="rg" transform="translate(103.80,1443.44) rotate(-90)" font-size="48.0" textLength="147.89" lengthAdjust="spacingAndGlyphs">eff,orig</text>
</svg></body></html>
